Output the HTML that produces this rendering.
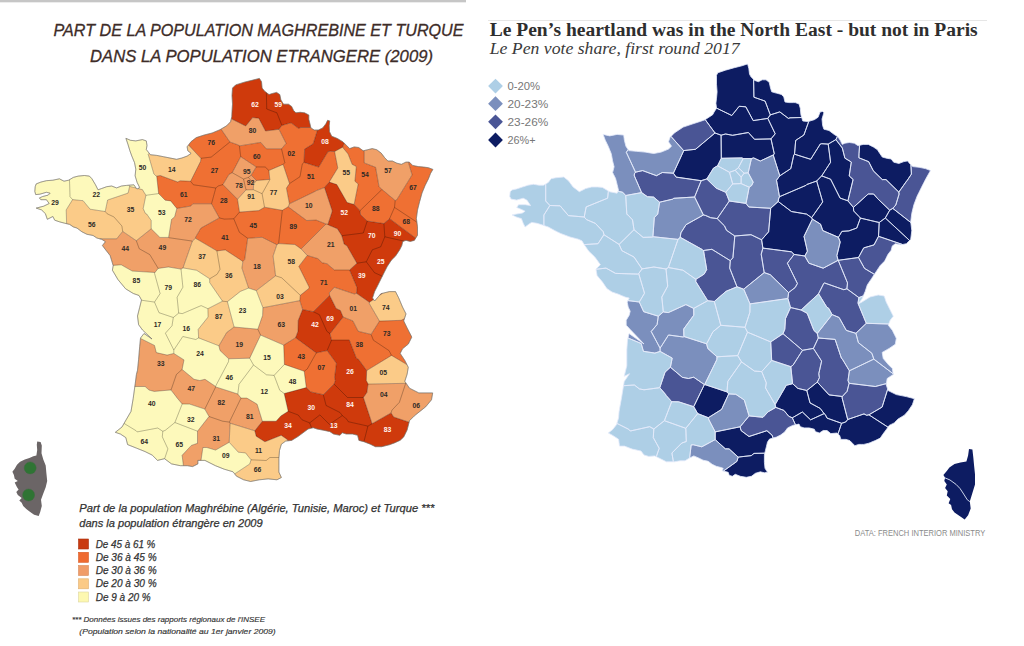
<!DOCTYPE html>
<html><head><meta charset="utf-8"><title>France maps</title>
<style>
html,body{margin:0;padding:0;background:#fff;}
body{width:1024px;height:646px;overflow:hidden;position:relative;}
svg{position:absolute;left:0;top:0;display:block;}
.lt{font-family:"Liberation Sans",sans-serif;font-style:italic;}
.num{font-family:"Liberation Sans",sans-serif;font-size:6.8px;font-weight:bold;text-anchor:middle;}
.serif{font-family:"Liberation Serif",serif;}
.cond{font-family:"Liberation Sans",sans-serif;}
</style></head>
<body>
<svg width="1024" height="646" viewBox="0 0 1024 646">
<rect x="0" y="0" width="466" height="2" fill="#c6c6c6"/><rect x="0" y="2" width="466" height="1" fill="#ececec"/>
<text class="lt" x="53.5" y="35.8" font-size="16.8" fill="#3d2c28" stroke="#3d2c28" stroke-width="0.3" textLength="410" lengthAdjust="spacingAndGlyphs">PART DE LA POPULATION MAGHREBINE ET TURQUE</text>
<text class="lt" x="90" y="62.3" font-size="16.8" fill="#3d2c28" stroke="#3d2c28" stroke-width="0.3" textLength="343" lengthAdjust="spacingAndGlyphs">DANS LA POPULATION ETRANGERE (2009)</text>
<g id="leftmap">
<path fill="#fdf9bb" d="M135.8,140.9 130.5,140.3 125.9,138.3 127.9,144.2 129.9,150.8 131.8,156.1 132.6,157.9 134.5,162.6 135.8,169.2 135.3,173.8 135.1,175.8 135.5,177.1 137.1,182.4 139.7,187.6 137.9,188.5 142.4,189.6 145.9,195.3 143.2,208.6 145.3,213.3 146.7,214 151.2,220.5 151.2,228.8 159.9,237.4 168.6,237.4 171.5,219.5 174.7,216.7 176.8,208.4 170.7,200.9 165.2,200.2 158.6,193.6 156.7,176.2 155.9,175.9 153.8,173.8 148.2,154.4 149.2,153.2 146.3,149.5 147,145.5 146.3,140.9 142.4,139.6ZM126.5,185.4 121.5,186 116.6,187.9 111.6,186 106.7,186.7 106.1,186.9 101.7,188.5 98,189.8 95.5,184.8 91.9,178.7 91.8,178.6 89.4,176.1 84.4,175.5 78.2,176.1 73.3,177.4 69.5,179.7 68.7,180.2 64,181.2 59.4,178.8 52.9,180.2 50,180.4 46.4,180.7 40.8,182.1 36.2,183.9 35.2,186.7 34.8,191.4 35.7,194.6 39.9,194.2 46.4,192.3 50.1,193.2 48.2,195.1 42.7,196.5 39.4,197.9 40.8,199.7 46.4,199.7 46.7,200.2 49.2,203.5 43.6,206.2 41.1,206.8 36.2,208.1 39.2,209.1 41.7,210 43,211.3 45.4,213.7 47.3,219.3 52.9,216.5 54.7,220.2 59.7,221.9 64.6,223.2 66.6,223.7 66.2,209.9 72.6,199.6 83.1,200.7 90.1,209.2 105.2,211.5 107.6,200 128.1,193.1 129.6,186.4 136.1,188 133.9,184.8 129,185.2ZM117.9,279.5 125.6,288.8 131.5,292.4 133.3,293.5 136,294.4 139,295.5 141.5,300 141.4,300.2 139.7,307.3 137.5,316 138.6,324.7 138.7,324.8 142.5,330 152,339 144,333.5 140.5,338 140.5,338.4 154.5,345.4 156.3,352.6 167.1,355.1 173.8,353.4 184,359.9 182.1,369.4 194,379.3 199.8,380.5 205,379.3 215.5,386.4 215.7,386.9 237.8,394 241,398.1 246.9,398.1 257.1,404.2 262.4,421.2 276.1,421.2 280.9,415.9 288.2,411.3 284.2,393.5 306.3,387.6 304.2,371.3 284.4,364.4 283.7,345.1 260.6,335.1 249.7,358.2 228.7,358.8 220,350.5 218.9,345.8 198.6,337.9 198.2,329.4 208.1,317 207.9,308.7 222.5,301.2 209.7,282.6 209.7,278.8 196.7,270.3 183,267.9 181,269.1 168.4,267 158.2,268.4 154.9,272.5 132.3,271.1 121.2,264.8 113.1,265.4 113.2,265.6 112.4,270.2ZM122,427 115.3,432.3 120.5,434.1 125.8,437.6 127.6,444.6 130.4,445.7 136.4,448.1 145.1,451.6 146.9,452.5 152.2,455.1 157.5,460.4 164.5,458.7 164.6,458.8 171.5,463.9 180.3,465.7 183.4,465.7 182.1,455.3 191.4,445.4 197.5,443.3 197.5,431.2 209,416.5 204.8,409.1 189.6,404.1 182.2,404 176.5,397.2 176.4,396.9 171,390.1 170.4,390 154.2,391.4 149.1,390.1 145.1,386.5 134.8,386.5 133.2,398.4 131.5,408.2 131,411.4 126,420 124,423.4ZM262.9,307.7 256.3,290.6 248.6,288.1 240.4,291.4 227.4,301.7 234.1,327 257.8,329.2 262.6,315.5ZM251,459.8 245.5,452.9 238.3,452.2 229.2,442.3 215.6,450.1 206.8,447.5 202.9,447.5 201,460.4 204.9,460.4 215.4,465.7 221,467.9 224.2,469.2 226.3,469.8 233,471.8 234.7,473.9 249.8,463.9Z"/>
<path fill="#fbcb88" d="M187.1,146.8 187.8,150.8 191.1,153.4 187.1,156.1 181.8,158 177,159.2 176.6,159.3 170.6,158.1 170,158 163.4,156.7 156.8,155.4 150.3,154.7 149.2,153.2 148.2,154.4 153.8,173.8 155.9,175.9 156.7,176.2 160.2,175.5 177.7,182 180.2,180.8 190.6,181.3 200.6,161.3 200.9,158.3 188.5,145ZM246,189.9 237.5,199.3 239.5,212.1 258.9,210.6 264.5,207.2 282.3,210.3 288.2,206.8 289.4,203.8 286.4,188.1 289.5,183.6 283.1,164.4 268.9,170.5 269.8,179.4 256.5,180.5 253.7,183.8 253.3,189.7ZM136.4,188.5 136.1,188 129.6,186.4 128.1,193.1 107.6,200 105.2,211.5 90.1,209.2 83.1,200.7 72.6,199.6 66.2,209.9 66.6,223.7 69.6,224.4 73.3,226.9 76.6,228 77,228.1 81.9,231.8 86.9,234.3 93.1,235.5 93.8,236 96.8,238 99.6,238.8 116.7,238.8 122.7,231.4 136.3,240.7 151.2,228.8 151.2,220.5 146.7,214 145.3,213.3 143.2,208.6 145.9,195.3 142.4,189.6 137.9,188.5 137.1,188.9ZM222.5,301.2 207.9,308.7 208.1,317 198.2,329.4 198.6,337.9 218.9,345.8 226.7,332.5 234.1,327 227.4,301.7 240.4,291.4 248.6,288.1 241.9,268.1 242.9,261.4 225.3,249.9 216.9,250.9 216.4,250.7 216.4,250.6 195.5,238.3 192.4,241.1 183,267.9 196.7,270.3 209.7,278.8 209.7,282.6ZM236.5,476.2 243.6,479.8 250.6,481.5 253.2,481 259.4,479.8 266.2,479.1 268.2,478.9 277,479.8 281.4,477.5 278.9,472.1 278.9,465.8 278.9,458.2 279,457.5 279.5,450.5 281.4,444.2 285.7,441.1 287.8,440.8 287.3,439.5 281.2,435.3 264.9,441.8 256.2,436.2 254.8,430.8 230.1,423.2 229.2,442.3 238.3,452.2 245.5,452.9 251,459.8 249.8,463.9 234.7,473.9ZM329.3,181.9 329.3,182.1 336.8,184.6 347.1,202.5 354.1,204.5 358.2,184 354.9,181.2 356.3,166.6 352.1,164.3 348.1,154 342.5,147.2 334.6,151.6 337.8,168ZM309.2,287.2 298.8,266.4 307.2,255.4 301.1,248.9 294.9,244.5 278.6,243.6 276.9,244.7 273.1,256 275.6,275.8 256.3,290.6 262.9,307.7 299.8,300.6 300.3,295.3 308.8,288.5ZM406,313.9 402.5,307 398.7,297.9 395.5,291.6 389.3,291.6 382.6,293.3 379.4,295.5 374.6,301 373.6,299.5 369.4,302.3 369.4,303.7 379.5,321.1 401.2,320.3 404.5,318.6ZM404.8,381.3 407.1,374.3 408.3,367.3 406.9,364.6 391.5,355.4 366.7,370.6 366.3,380.6 368.1,384.1 405.7,383.3 405.9,383Z"/>
<path fill="#f0a068" d="M240.7,156.7 232.2,172.7 229,174.4 222.9,184.6 237.5,199.3 246,189.9 253.3,189.7 253.7,183.8 256.5,180.5 251.2,175.2 256.2,166.9ZM176.8,208.4 174.7,216.7 171.5,219.5 168.6,237.4 159.9,237.4 151.2,228.8 136.3,240.7 122.7,231.4 116.7,238.8 99.6,238.8 101.7,239.3 105.4,241.7 102.4,245.5 105,249 110.1,255.5 112.2,262.3 113.1,265.4 121.2,264.8 132.3,271.1 154.9,272.5 158.2,268.4 168.4,267 181,269.1 183,267.9 192.4,241.1 195.5,238.3 195.6,237.2 200.9,228.1 219.3,217.9 211.5,203.8 192.9,203.8 190.7,206.1ZM234.1,327 226.7,332.5 218.9,345.8 220,350.5 228.7,358.8 249.7,358.2 260.6,335.1 283.7,345.1 295.6,337.7 298,331.2 298.2,320.5 302.6,309.5 299.8,300.6 262.9,307.7 262.6,315.5 257.8,329.2ZM136.4,374.5 135.3,383.2 134.8,386.5 145.1,386.5 149.1,390.1 154.2,391.4 170.4,390 171,390.1 176.4,396.9 176.5,397.2 182.2,404 189.6,404.1 204.8,409.1 209,416.5 197.5,431.2 197.5,443.3 191.4,445.4 182.1,455.3 183.4,465.7 187.3,465.7 192.6,466.6 197.9,463.9 197.9,460.4 201,460.4 202.9,447.5 206.8,447.5 215.6,450.1 229.2,442.3 230.1,423.2 254.8,430.8 262.4,421.2 257.1,404.2 246.9,398.1 241,398.1 237.8,394 215.7,386.9 215.5,386.4 205,379.3 199.8,380.5 194,379.3 182.1,369.4 184,359.9 173.8,353.4 167.1,355.1 156.3,352.6 154.5,345.4 140.5,338.4 139.7,346.4 138.6,359.4 138.5,360.6 137.5,370.2ZM279,129.3 265.5,131 258.8,118.2 252.6,117.6 245.7,126 231.3,118.8 230.5,121.8 226.6,125.8 221,129.1 229.9,142 238.6,145.1 239.4,145.9 260.7,142.4 266.4,148.8 281.5,148.8 286.1,143.4ZM382.2,189.6 395.2,200.5 396.7,199.9 412.1,174.9 408.3,162.1 405.9,162.1 403.7,163.2 401.4,164.3 396.9,163.2 392.4,161 387.9,161 384.9,157.9 384.6,157.6 381.2,153.1 376.7,149.7 372.2,148.6 367.7,149.7 364.3,150.5 364.2,150.8 364.2,162.9 375.6,167.3 379,186.5 381.9,189.5ZM289.4,203.8 288.2,206.8 306.7,220.5 316.2,220.1 326,224 301.1,248.9 307.2,255.4 317.8,258.6 322.2,262.8 327,263.7 334.4,270 349.6,270 356.9,263.2 346.9,245.7 344.1,244.1 341.8,235.7 337.4,228.7 328.4,225 327.9,224.4 332.3,211 324.5,187.5 315.1,191.1 314.6,191.7ZM241.9,268.1 248.6,288.1 256.3,290.6 275.6,275.8 273.1,256 276.9,244.7 262.1,237.3 247.7,238.3 244.7,259.5 242.9,261.4ZM371.1,334.4 379.5,321.1 369.4,303.7 369.4,302.3 356.5,293.3 354.4,294 334.4,287.3 329.3,292.8 329.6,295.4 336.1,308.4 340.4,310.5 343.1,317 352.9,320.9 358.2,331.3ZM415.9,414.6 419.9,411.4 425.7,406.8 431.5,399.8 432.7,392.9 428,392.9 418.8,392.9 409.5,388.2 405.9,383 405.7,383.3 368.1,384.1 366.9,392.5 363.4,397.5 363.4,397.6 372.1,423.7 391.1,412.9 393.6,417 409.1,422.2 409.5,420.7 414.1,416.1Z"/>
<path fill="#ef7033" d="M212.1,133 204.2,135 196.3,137.6 191.1,141.6 188.5,145 200.9,158.3 200.6,161.3 190.6,181.3 180.2,180.8 177.7,182 160.2,175.5 156.7,176.2 158.6,193.6 165.2,200.2 170.7,200.9 176.8,208.4 190.7,206.1 192.9,203.8 211.5,203.8 219.3,217.9 200.9,228.1 195.6,237.2 195.5,238.3 216.4,250.6 216.4,250.7 216.9,250.9 225.3,249.9 242.9,261.4 244.7,259.5 247.7,238.3 262.1,237.3 276.9,244.7 278.6,243.6 294.9,244.5 301.1,248.9 326,224 316.2,220.1 306.7,220.5 288.2,206.8 282.3,210.3 264.5,207.2 258.9,210.6 239.5,212.1 237.5,199.3 222.9,184.6 229,174.4 232.2,172.7 240.7,156.7 256.2,166.9 251.2,175.2 256.5,180.5 269.8,179.4 268.9,170.5 283.1,164.4 289.5,183.6 286.4,188.1 289.4,203.8 314.6,191.7 315.1,191.1 324.5,187.5 329.3,182.1 329.3,181.9 337.8,168 334.6,151.6 330.4,151.2 327.9,151.8 318.7,167.1 304,162.4 304.6,149.1 313.2,143.8 317.5,130 314.2,130 310.9,127.9 310.8,127.5 300.9,127.5 298.4,128.3 291,122.8 281.9,125.4 279,129.3 286.1,143.4 281.5,148.8 266.4,148.8 260.7,142.4 239.4,145.9 238.6,145.1 229.9,142 221,129.1 220,129.7ZM283.7,345.1 284.4,364.4 304.2,371.3 306.3,387.6 310.8,391.9 323.3,394.7 334,384 335.3,380.6 334.6,377.4 336.4,363.2 327.1,350.6 316.3,352.9 295.6,337.7ZM354.1,204.5 360,210.7 360.5,214.6 367.2,221.1 383.9,223.6 389.6,218.7 415.7,238.2 417.5,235.2 417.5,226.8 416.9,222.2 416.4,218.4 417.5,210.1 419.6,201.7 420,200.4 422,193 425,185.7 425.3,185.1 428.4,178.9 430.6,173.3 432.9,169.4 428.4,167.7 423.9,167.1 418.3,166.6 412.6,165.4 409.3,162.1 408.3,162.1 412.1,174.9 396.7,199.9 395.2,200.5 382.2,189.6 381.9,189.5 379,186.5 375.6,167.3 364.2,162.9 364.2,150.8 364.3,150.5 363.2,150.8 358.7,147.5 354.2,146.9 349.7,148.6 346.3,145.2 344.3,143.2 342.5,147.2 348.1,154 352.1,164.3 356.3,166.6 354.9,181.2 358.2,184ZM313.3,311.7 329.6,295.4 329.3,292.8 334.4,287.3 354.4,294 356.5,293.3 357.1,287.9 349.6,270 334.4,270 327,263.7 322.2,262.8 317.8,258.6 307.2,255.4 298.8,266.4 309.2,287.2 308.8,288.5 300.3,295.3 299.8,300.6 302.6,309.5ZM402.5,348.8 408.3,344.1 411.8,337.1 407.1,327.9 403.7,320.9 404.5,318.6 401.2,320.3 379.5,321.1 371.1,334.4 358.2,331.3 352.9,320.9 343.1,317 330,333.7 331.6,340 349.3,340 356.5,358.5 358.4,359.2 366.7,370.6 391.5,355.4 406.9,364.6 404.8,360.4 400.2,353.4Z"/>
<path fill="#cf3a0c" d="M232.5,88.1 232,95.6 232.5,104.2 232.4,105 232,111.7 231.8,116.6 231.3,118.8 245.7,126 252.6,117.6 258.8,118.2 265.5,131 279,129.3 281.9,125.4 291,122.8 298.4,128.3 300.9,127.5 310.8,127.5 309.9,123.6 308.8,119.3 308.8,115 304.5,112.8 303.9,112.7 300.2,112.3 295.9,112.8 294.1,111.1 293.7,110.7 291.6,106.4 289.3,104.8 288.4,104.2 283.5,104.2 280.9,99.9 279.8,94.6 276.6,92.4 272.3,93.5 269,94.6 266.4,92.6 264.7,91.3 262.1,88.1 261.7,83.3 261.5,81.7 259.4,78.4 252.9,80.1 244.3,82.2 235.7,84.9ZM337.4,138.5 331.7,136.2 329.5,131.7 329.2,125.7 329.7,120.9 327.6,120.3 326,123.6 325.6,124.2 322.7,127.9 318.4,130 317.5,130 313.2,143.8 304.6,149.1 304,162.4 318.7,167.1 327.9,151.8 330.4,151.2 334.6,151.6 342.5,147.2 344.3,143.2 343,141.9ZM341.8,235.7 344.1,244.1 346.9,245.7 356.9,263.2 349.6,270 357.1,287.9 356.5,293.3 369.4,302.3 373.6,299.5 372.5,297.9 374.6,291.6 377.8,285.3 380.9,279 382.3,276.2 384,272.8 387.2,266.5 391.3,260.2 393.5,258.1 395.5,256.1 399.7,249.8 401.8,245.6 402.8,241.4 403.9,241.1 406,240.4 410.2,241.4 414.3,240.4 415.7,238.2 389.6,218.7 383.9,223.6 367.2,221.1 360.5,214.6 360,210.7 354.1,204.5 347.1,202.5 336.8,184.6 329.3,182.1 324.5,187.5 332.3,211 327.9,224.4 328.4,225 337.4,228.7ZM298,331.2 295.6,337.7 316.3,352.9 327.1,350.6 336.4,363.2 334.6,377.4 335.3,380.6 334,384 323.3,394.7 310.8,391.9 306.3,387.6 284.2,393.5 288.2,411.3 280.9,415.9 276.1,421.2 262.4,421.2 254.8,430.8 256.2,436.2 264.9,441.8 281.2,435.3 287.3,439.5 287.8,440.8 291.6,440.4 297.9,436.6 303,432.8 308.1,429 311.7,428.1 313.2,427.7 317,429 323.3,430.2 329,431.4 329.7,431.5 333.5,434 339.8,435.3 342.4,432.8 343.1,433 346.2,434 352.5,434 357.6,435.3 358.9,440.4 363.9,441.7 363.9,441.7 370.3,444.2 375.4,446.7 381.7,446.7 389.3,444.8 389.6,444.7 394.4,442.9 399.7,440.5 400,440.4 403.7,437 407.1,430 409.1,422.2 393.6,417 391.1,412.9 372.1,423.7 363.4,397.6 363.4,397.5 366.9,392.5 368.1,384.1 366.3,380.6 366.7,370.6 358.4,359.2 356.5,358.5 349.3,340 331.6,340 330,333.7 343.1,317 340.4,310.5 336.1,308.4 329.6,295.4 313.3,311.7 302.6,309.5 298.2,320.5ZM382.6,293.3 380.9,293.7 379.4,295.5Z"/>
<g fill="none" stroke="#000" stroke-width="0.7" stroke-opacity="0.2" stroke-linejoin="round">
<path d="M69.5,179.7 68.7,180.2 64,181.2 59.4,178.8 52.9,180.2 50,180.4 46.4,180.7 40.8,182.1 36.2,183.9 35.2,186.7 34.8,191.4 35.7,194.6 39.9,194.2 46.4,192.3 50.1,193.2 48.2,195.1 42.7,196.5 39.4,197.9 40.8,199.7 46.4,199.7 46.7,200.2 49.2,203.5 43.6,206.2 41.1,206.8 36.2,208.1 39.2,209.1 41.7,210 43,211.3 45.4,213.7 47.3,219.3 52.9,216.5 54.7,220.2 59.7,221.9 64.6,223.2 66.6,223.7 66.2,209.9 72.6,199.6 70,196.7Z"/>
<path d="M146.3,149.5 147,145.5 146.3,140.9 142.4,139.6 135.8,140.9 130.5,140.3 125.9,138.3 127.9,144.2 129.9,150.8 131.8,156.1 132.6,157.9 134.5,162.6 135.8,169.2 135.3,173.8 135.1,175.8 135.5,177.1 137.1,182.4 139.7,187.6 137.9,188.5 142.4,189.6 145.9,195.3 158.6,193.6 156.7,176.2 155.9,175.9 153.8,173.8 148.2,154.4 149.2,153.2ZM129.6,186.4 136.1,188 133.9,184.8 129,185.2Z"/>
<path d="M136.2,430.8 124,423.4 122,427 115.3,432.3 120.5,434.1 125.8,437.6 127.6,444.6 130.4,445.7 136.4,448.1 145.1,451.6 146.9,452.5 152.2,455.1 157.5,460.4 164.5,458.7 164.6,458.8 167.9,448.9 162.3,436.8 162.8,431.3 157.7,428 137.2,431.9Z"/>
<path d="M66.6,223.7 69.6,224.4 73.3,226.9 76.6,228 77,228.1 81.9,231.8 86.9,234.3 93.1,235.5 93.8,236 96.8,238 99.6,238.8 116.7,238.8 122.7,231.4 121.9,226 113.9,216.9 107.2,213.8 105.2,211.5 90.1,209.2 83.1,200.7 72.6,199.6 66.2,209.9Z"/>
<path d="M83.1,200.7 90.1,209.2 105.2,211.5 107.6,200 128.1,193.1 129.6,186.4 129,185.2 126.5,185.4 121.5,186 116.6,187.9 111.6,186 106.7,186.7 106.1,186.9 101.7,188.5 98,189.8 95.5,184.8 91.9,178.7 91.8,178.6 89.4,176.1 84.4,175.5 78.2,176.1 73.3,177.4 69.5,179.7 70,196.7 72.6,199.6Z"/>
<path d="M259.4,78.4 252.9,80.1 244.3,82.2 235.7,84.9 232.5,88.1 232,95.6 232.5,104.2 232.4,105 232,111.7 231.8,116.6 231.3,118.8 245.7,126 252.6,117.6 258.8,118.2 265.5,131 279,129.3 281.9,125.4 276.9,112.8 266.7,109 266.4,92.6 264.7,91.3 262.1,88.1 261.7,83.3 261.5,81.7Z"/>
<path d="M113.1,265.4 121.2,264.8 132.3,271.1 154.9,272.5 158.2,268.4 149.8,254.6 139.2,248.7 136.3,240.7 122.7,231.4 116.7,238.8 99.6,238.8 101.7,239.3 105.4,241.7 102.4,245.5 105,249 110.1,255.5 112.2,262.3Z"/>
<path d="M145.9,195.3 142.4,189.6 137.9,188.5 137.1,188.9 136.4,188.5 136.1,188 129.6,186.4 128.1,193.1 107.6,200 105.2,211.5 107.2,213.8 113.9,216.9 121.9,226 122.7,231.4 136.3,240.7 151.2,228.8 151.2,220.5 146.7,214 145.3,213.3 143.2,208.6Z"/>
<path d="M121.2,264.8 113.1,265.4 113.2,265.6 112.4,270.2 117.9,279.5 125.6,288.8 131.5,292.4 133.3,293.5 136,294.4 139,295.5 141.5,300 141.4,300.2 154.5,302.1 160.1,293.6 154.6,273.6 154.9,272.5 132.3,271.1Z"/>
<path d="M133.2,398.4 131.5,408.2 131,411.4 126,420 124,423.4 136.2,430.8 137.2,431.9 157.7,428 162.8,431.3 165.3,430.3 174.9,422.5 182.2,404 176.5,397.2 176.4,396.9 171,390.1 170.4,390 154.2,391.4 149.1,390.1 145.1,386.5 134.8,386.5Z"/>
<path d="M140.5,338.4 139.7,346.4 138.6,359.4 138.5,360.6 137.5,370.2 136.4,374.5 135.3,383.2 134.8,386.5 145.1,386.5 149.1,390.1 154.2,391.4 170.4,390 171,390.1 176.4,374.5 182.1,369.4 184,359.9 173.8,353.4 167.1,355.1 156.3,352.6 154.5,345.4Z"/>
<path d="M160.1,293.6 154.5,302.1 159,312.7 173.3,317.5 178.7,313.1 177.1,297.3 182.9,287.2 181,269.1 168.4,267 158.2,268.4 154.9,272.5 154.6,273.6Z"/>
<path d="M200.9,158.3 211.2,157.1 229.9,142 221,129.1 220,129.7 212.1,133 204.2,135 196.3,137.6 191.1,141.6 188.5,145Z"/>
<path d="M141.4,300.2 139.7,307.3 137.5,316 138.6,324.7 138.7,324.8 142.5,330 152,339 144,333.5 140.5,338 140.5,338.4 154.5,345.4 156.3,352.6 167.1,355.1 173.8,353.4 173.8,350 165.4,333.2 172,325.8 173.3,317.5 159,312.7 154.5,302.1Z"/>
<path d="M145.3,213.3 146.7,214 151.2,220.5 151.2,228.8 159.9,237.4 168.6,237.4 171.5,219.5 174.7,216.7 176.8,208.4 170.7,200.9 165.2,200.2 158.6,193.6 145.9,195.3 143.2,208.6Z"/>
<path d="M149.8,254.6 158.2,268.4 168.4,267 181,269.1 183,267.9 192.4,241.1 168.9,237.7 168.6,237.4 159.9,237.4 151.2,228.8 136.3,240.7 139.2,248.7Z"/>
<path d="M190.6,181.3 200.6,161.3 200.9,158.3 188.5,145 187.1,146.8 187.8,150.8 191.1,153.4 187.1,156.1 181.8,158 177,159.2 176.6,159.3 170.6,158.1 170,158 163.4,156.7 156.8,155.4 150.3,154.7 149.2,153.2 148.2,154.4 153.8,173.8 155.9,175.9 156.7,176.2 160.2,175.5 177.7,182 180.2,180.8Z"/>
<path d="M170.7,200.9 176.8,208.4 190.7,206.1 192.9,203.8 211.5,203.8 215.8,188 193.4,184.8 190.6,181.3 180.2,180.8 177.7,182 160.2,175.5 156.7,176.2 158.6,193.6 165.2,200.2Z"/>
<path d="M197.5,443.3 197.5,431.2 174.9,422.5 165.3,430.3 162.8,431.3 162.3,436.8 167.9,448.9 164.6,458.8 171.5,463.9 180.3,465.7 183.4,465.7 182.1,455.3 191.4,445.4Z"/>
<path d="M219.3,217.9 211.5,203.8 192.9,203.8 190.7,206.1 176.8,208.4 174.7,216.7 171.5,219.5 168.6,237.4 168.9,237.7 192.4,241.1 195.5,238.3 195.6,237.2 200.9,228.1Z"/>
<path d="M208.1,317 207.9,308.7 201.1,305.6 182.4,313.6 178.7,313.1 173.3,317.5 172,325.8 165.4,333.2 173.8,350 182.8,336.5 195.8,339.5 198.6,337.9 198.2,329.4Z"/>
<path d="M182.1,369.4 176.4,374.5 171,390.1 176.4,396.9 176.5,397.2 182.2,404 189.6,404.1 204.8,409.1 215.7,386.9 215.5,386.4 205,379.3 199.8,380.5 194,379.3Z"/>
<path d="M206.8,447.5 215.6,450.1 229.2,442.3 230.1,423.2 229.4,422.1 222.6,421.2 209,416.5 197.5,431.2 197.5,443.3 191.4,445.4 182.1,455.3 183.4,465.7 187.3,465.7 192.6,466.6 197.9,463.9 197.9,460.4 201,460.4 202.9,447.5Z"/>
<path d="M209.7,278.8 196.7,270.3 183,267.9 181,269.1 182.9,287.2 177.1,297.3 178.7,313.1 182.4,313.6 201.1,305.6 207.9,308.7 222.5,301.2 209.7,282.6Z"/>
<path d="M218.9,345.8 198.6,337.9 195.8,339.5 182.8,336.5 173.8,350 173.8,353.4 184,359.9 182.1,369.4 194,379.3 199.8,380.5 205,379.3 215.5,386.4 228.5,361.7 228.7,358.8 220,350.5Z"/>
<path d="M183,267.9 196.7,270.3 209.7,278.8 217.1,274.3 220,269.3 216.9,250.9 216.4,250.7 216.4,250.6 195.5,238.3 192.4,241.1Z"/>
<path d="M174.9,422.5 197.5,431.2 209,416.5 204.8,409.1 189.6,404.1 182.2,404Z"/>
<path d="M216.4,250.6 216.4,250.7 216.9,250.9 225.3,249.9 242.9,261.4 244.7,259.5 247.7,238.3 239.4,232.3 233.8,218.8 224.3,219.1 219.3,217.9 200.9,228.1 195.6,237.2 195.5,238.3Z"/>
<path d="M224.2,469.2 226.3,469.8 233,471.8 234.7,473.9 249.8,463.9 251,459.8 245.5,452.9 238.3,452.2 229.2,442.3 215.6,450.1 206.8,447.5 202.9,447.5 201,460.4 204.9,460.4 215.4,465.7 221,467.9Z"/>
<path d="M234.1,327 227.4,301.7 222.5,301.2 207.9,308.7 208.1,317 198.2,329.4 198.6,337.9 218.9,345.8 226.7,332.5Z"/>
<path d="M209,416.5 222.6,421.2 229.4,422.1 241,398.1 237.8,394 215.7,386.9 204.8,409.1Z"/>
<path d="M232.2,172.7 240.7,156.7 239.4,145.9 238.6,145.1 229.9,142 211.2,157.1 200.9,158.3 200.6,161.3 190.6,181.3 193.4,184.8 215.8,188 218.2,186 222.9,184.6 229,174.4Z"/>
<path d="M215.8,188 211.5,203.8 219.3,217.9 224.3,219.1 233.8,218.8 239.5,212.1 237.5,199.3 222.9,184.6 218.2,186Z"/>
<path d="M242.9,261.4 225.3,249.9 216.9,250.9 220,269.3 217.1,274.3 209.7,278.8 209.7,282.6 222.5,301.2 227.4,301.7 240.4,291.4 248.6,288.1 241.9,268.1Z"/>
<path d="M220,350.5 228.7,358.8 249.7,358.2 260.6,335.1 257.8,329.2 234.1,327 226.7,332.5 218.9,345.8Z"/>
<path d="M266.2,460.5 251,459.8 249.8,463.9 234.7,473.9 236.5,476.2 243.6,479.8 250.6,481.5 253.2,481 259.4,479.8 266.2,479.1 268.2,478.9 277,479.8 281.4,477.5 278.9,472.1 278.9,465.8 278.9,458.2 279,457.5 269.9,457.5Z"/>
<path d="M245.5,452.9 251,459.8 266.2,460.5 269.9,457.5 279,457.5 279.5,450.5 281.4,444.2 285.7,441.1 287.8,440.8 287.3,439.5 281.2,435.3 264.9,441.8 256.2,436.2 254.8,430.8 230.1,423.2 229.2,442.3 238.3,452.2Z"/>
<path d="M253.5,365 249.7,358.2 228.7,358.8 228.5,361.7 215.5,386.4 215.7,386.9 237.8,394 239,384.3Z"/>
<path d="M222.9,184.6 237.5,199.3 246,189.9 243.5,179 232.2,172.7 229,174.4Z"/>
<path d="M227.4,301.7 234.1,327 257.8,329.2 262.6,315.5 262.9,307.7 256.3,290.6 248.6,288.1 240.4,291.4Z"/>
<path d="M239.4,232.3 247.7,238.3 262.1,237.3 276.9,244.7 278.6,243.6 282.3,210.3 264.5,207.2 258.9,210.6 239.5,212.1 233.8,218.8Z"/>
<path d="M230.1,423.2 254.8,430.8 262.4,421.2 257.1,404.2 246.9,398.1 241,398.1 229.4,422.1Z"/>
<path d="M276.9,244.7 262.1,237.3 247.7,238.3 244.7,259.5 242.9,261.4 241.9,268.1 248.6,288.1 256.3,290.6 275.6,275.8 273.1,256Z"/>
<path d="M257.1,404.2 262.4,421.2 276.1,421.2 280.9,415.9 288.2,411.3 284.2,393.5 279.7,390.2 274.1,375.4 266.5,374.8 253.5,365 239,384.3 237.8,394 241,398.1 246.9,398.1Z"/>
<path d="M260.7,142.4 266.4,148.8 281.5,148.8 286.1,143.4 279,129.3 265.5,131 258.8,118.2 252.6,117.6 245.7,126 231.3,118.8 230.5,121.8 226.6,125.8 221,129.1 229.9,142 238.6,145.1 239.4,145.9Z"/>
<path d="M237.5,199.3 239.5,212.1 258.9,210.6 264.5,207.2 262.1,193.7 253.3,189.7 246,189.9Z"/>
<path d="M232.2,172.7 243.5,179 248.4,177.4 251.2,175.2 256.2,166.9 240.7,156.7Z"/>
<path d="M246,189.9 253.3,189.7 253.7,183.8 248.4,177.4 243.5,179Z"/>
<path d="M253.5,365 266.5,374.8 274.1,375.4 284.4,364.4 283.7,345.1 260.6,335.1 249.7,358.2Z"/>
<path d="M256.2,166.9 265.2,167 268.9,170.5 283.1,164.4 284.8,162.7 281.5,148.8 266.4,148.8 260.7,142.4 239.4,145.9 240.7,156.7Z"/>
<path d="M253.7,183.8 256.5,180.5 251.2,175.2 248.4,177.4Z"/>
<path d="M256.5,180.5 269.8,179.4 268.9,170.5 265.2,167 256.2,166.9 251.2,175.2Z"/>
<path d="M253.3,189.7 262.1,193.7 269.9,179.6 269.8,179.4 256.5,180.5 253.7,183.8Z"/>
<path d="M281.9,125.4 291,122.8 298.4,128.3 300.9,127.5 310.8,127.5 309.9,123.6 308.8,119.3 308.8,115 304.5,112.8 303.9,112.7 300.2,112.3 295.9,112.8 294.1,111.1 293.7,110.7 291.6,106.4 289.3,104.8 288.4,104.2 283.5,104.2 280.9,99.9 279.8,94.6 276.6,92.4 272.3,93.5 269,94.6 266.4,92.6 266.7,109 276.9,112.8Z"/>
<path d="M289.5,183.6 283.1,164.4 268.9,170.5 269.8,179.4 269.9,179.6 262.1,193.7 264.5,207.2 282.3,210.3 288.2,206.8 289.4,203.8 286.4,188.1Z"/>
<path d="M275.6,275.8 281.7,277.8 300.3,295.3 308.8,288.5 309.2,287.2 298.8,266.4 307.2,255.4 301.1,248.9 294.9,244.5 278.6,243.6 276.9,244.7 273.1,256Z"/>
<path d="M262.9,307.7 299.8,300.6 300.3,295.3 281.7,277.8 275.6,275.8 256.3,290.6Z"/>
<path d="M287.3,439.5 287.8,440.8 291.6,440.4 297.9,436.6 303,432.8 308.1,429 311.7,428.1 309.7,422.9 302,419.8 298.2,415 288.2,411.3 280.9,415.9 276.1,421.2 262.4,421.2 254.8,430.8 256.2,436.2 264.9,441.8 281.2,435.3Z"/>
<path d="M302.6,309.5 299.8,300.6 262.9,307.7 262.6,315.5 257.8,329.2 260.6,335.1 283.7,345.1 295.6,337.7 298,331.2 298.2,320.5Z"/>
<path d="M279.7,390.2 284.2,393.5 306.3,387.6 304.2,371.3 284.4,364.4 274.1,375.4Z"/>
<path d="M313.2,143.8 317.5,130 314.2,130 310.9,127.9 310.8,127.5 300.9,127.5 298.4,128.3 291,122.8 281.9,125.4 279,129.3 286.1,143.4 281.5,148.8 284.8,162.7 283.1,164.4 289.5,183.6 300,176.7 302.3,163.9 304,162.4 304.6,149.1Z"/>
<path d="M337.8,168 334.6,151.6 330.4,151.2 327.9,151.8 318.7,167.1 304,162.4 302.3,163.9 300,176.7 289.5,183.6 286.4,188.1 289.4,203.8 314.6,191.7 315.1,191.1 324.5,187.5 329.3,182.1 329.3,181.9Z"/>
<path d="M313.2,427.7 317,429 323.3,430.2 329,431.4 329.7,431.5 333.5,434 339.8,435.3 342.4,432.8 343.1,433 346.2,434 352.5,434 357.6,435.3 358.9,440.4 363.9,441.7 363.9,441.7 367.9,426.1 348.2,421.7 347,419.4 342.3,415.6 329.4,424.4 319.9,414.9 309.7,422.9 311.7,428.1Z"/>
<path d="M294.9,244.5 301.1,248.9 326,224 316.2,220.1 306.7,220.5 288.2,206.8 282.3,210.3 278.6,243.6Z"/>
<path d="M284.4,364.4 304.2,371.3 307.3,368.9 316.3,352.9 295.6,337.7 283.7,345.1Z"/>
<path d="M319.4,314.7 313.3,311.7 302.6,309.5 298.2,320.5 298,331.2 295.6,337.7 316.3,352.9 327.1,350.6 331.6,340 330,333.7 326.8,331.2Z"/>
<path d="M308.8,288.5 300.3,295.3 299.8,300.6 302.6,309.5 313.3,311.7 329.6,295.4 329.3,292.8 334.4,287.3 354.4,294 356.5,293.3 357.1,287.9 349.6,270 334.4,270 327,263.7 322.2,262.8 317.8,258.6 307.2,255.4 298.8,266.4 309.2,287.2Z"/>
<path d="M298.2,415 302,419.8 309.7,422.9 319.9,414.9 329.4,424.4 342.3,415.6 340,412.5 326.1,405.5 323.3,394.7 310.8,391.9 306.3,387.6 284.2,393.5 288.2,411.3Z"/>
<path d="M327.9,224.4 332.3,211 324.5,187.5 315.1,191.1 314.6,191.7 289.4,203.8 288.2,206.8 306.7,220.5 316.2,220.1 326,224Z"/>
<path d="M336.4,363.2 327.1,350.6 316.3,352.9 307.3,368.9 304.2,371.3 306.3,387.6 310.8,391.9 323.3,394.7 334,384 335.3,380.6 334.6,377.4Z"/>
<path d="M428.4,178.9 430.6,173.3 432.9,169.4 428.4,167.7 423.9,167.1 418.3,166.6 412.6,165.4 409.3,162.1 408.3,162.1 412.1,174.9 396.7,199.9 395.2,200.5 394.5,207.4 416.9,222.2 416.4,218.4 417.5,210.1 419.6,201.7 420,200.4 422,193 425,185.7 425.3,185.1Z"/>
<path d="M334.6,151.6 342.5,147.2 344.3,143.2 343,141.9 337.4,138.5 331.7,136.2 329.5,131.7 329.2,125.7 329.7,120.9 327.6,120.3 326,123.6 325.6,124.2 322.7,127.9 318.4,130 317.5,130 313.2,143.8 304.6,149.1 304,162.4 318.7,167.1 327.9,151.8 330.4,151.2Z"/>
<path d="M317.8,258.6 322.2,262.8 327,263.7 334.4,270 349.6,270 356.9,263.2 346.9,245.7 344.1,244.1 341.8,235.7 337.4,228.7 328.4,225 327.9,224.4 326,224 301.1,248.9 307.2,255.4Z"/>
<path d="M340,412.5 342.3,415.6 347,419.4 348.2,421.7 367.9,426.1 372,423.8 372.1,423.7 363.4,397.6 363.4,397.5 347.5,397.5 334,384 323.3,394.7 326.1,405.5Z"/>
<path d="M329.6,295.4 313.3,311.7 319.4,314.7 326.8,331.2 330,333.7 343.1,317 340.4,310.5 336.1,308.4Z"/>
<path d="M349.3,340 356.5,358.5 358.4,359.2 366.7,370.6 391.5,355.4 389.1,350.7 373.4,340.2 371.1,334.4 358.2,331.3 352.9,320.9 343.1,317 330,333.7 331.6,340Z"/>
<path d="M332.3,211 327.9,224.4 328.4,225 337.4,228.7 341.8,235.7 363.3,233 367.2,221.1 360.5,214.6 360,210.7 354.1,204.5 347.1,202.5 336.8,184.6 329.3,182.1 324.5,187.5Z"/>
<path d="M336.1,308.4 340.4,310.5 343.1,317 352.9,320.9 358.2,331.3 371.1,334.4 379.5,321.1 369.4,303.7 369.4,302.3 356.5,293.3 354.4,294 334.4,287.3 329.3,292.8 329.6,295.4Z"/>
<path d="M348.1,154 342.5,147.2 334.6,151.6 337.8,168 329.3,181.9 329.3,182.1 336.8,184.6 347.1,202.5 354.1,204.5 358.2,184 354.9,181.2 356.3,166.6 352.1,164.3Z"/>
<path d="M336.4,363.2 334.6,377.4 335.3,380.6 334,384 347.5,397.5 363.4,397.5 366.9,392.5 368.1,384.1 366.3,380.6 366.7,370.6 358.4,359.2 356.5,358.5 349.3,340 331.6,340 327.1,350.6Z"/>
<path d="M352.1,164.3 356.3,166.6 354.9,181.2 358.2,184 354.1,204.5 360,210.7 381.9,189.5 379,186.5 375.6,167.3 364.2,162.9 364.2,150.8 364.3,150.5 363.2,150.8 358.7,147.5 354.2,146.9 349.7,148.6 346.3,145.2 344.3,143.2 342.5,147.2 348.1,154Z"/>
<path d="M380.7,246.8 384.8,236.8 383.9,223.6 367.2,221.1 363.3,233 341.8,235.7 344.1,244.1 346.9,245.7 356.9,263.2 366.3,261.8 372.3,249.8Z"/>
<path d="M366.3,380.6 368.1,384.1 405.7,383.3 405.9,383 404.8,381.3 407.1,374.3 408.3,367.3 406.9,364.6 391.5,355.4 366.7,370.6Z"/>
<path d="M357.1,287.9 356.5,293.3 369.4,302.3 373.6,299.5 372.5,297.9 374.6,291.6 377.8,285.3 380.9,279 382.3,276.2 374.5,272.7 366.3,261.8 356.9,263.2 349.6,270ZM379.4,295.5 382.6,293.3 380.9,293.7Z"/>
<path d="M364.2,162.9 375.6,167.3 379,186.5 381.9,189.5 382.2,189.6 395.2,200.5 396.7,199.9 412.1,174.9 408.3,162.1 405.9,162.1 403.7,163.2 401.4,164.3 396.9,163.2 392.4,161 387.9,161 384.9,157.9 384.6,157.6 381.2,153.1 376.7,149.7 372.2,148.6 367.7,149.7 364.3,150.5 364.2,150.8Z"/>
<path d="M394.4,442.9 399.7,440.5 400,440.4 403.7,437 407.1,430 409.1,422.2 393.6,417 391.1,412.9 372.1,423.7 372,423.8 367.9,426.1 363.9,441.7 370.3,444.2 375.4,446.7 381.7,446.7 389.3,444.8 389.6,444.7Z"/>
<path d="M360.5,214.6 367.2,221.1 383.9,223.6 389.6,218.7 394.5,207.4 395.2,200.5 382.2,189.6 381.9,189.5 360,210.7Z"/>
<path d="M399.4,402.3 405.7,383.3 368.1,384.1 366.9,392.5 363.4,397.5 363.4,397.6 372.1,423.7 391.1,412.9 392,410.1Z"/>
<path d="M395.5,256.1 399.7,249.8 401.8,245.6 402.8,241.4 403.9,241.1 384.8,236.8 380.7,246.8 372.3,249.8 366.3,261.8 374.5,272.7 382.3,276.2 384,272.8 387.2,266.5 391.3,260.2 393.5,258.1Z"/>
<path d="M389.1,350.7 391.5,355.4 406.9,364.6 404.8,360.4 400.2,353.4 402.5,348.8 408.3,344.1 411.8,337.1 407.1,327.9 403.7,320.9 404.5,318.6 401.2,320.3 379.5,321.1 371.1,334.4 373.4,340.2Z"/>
<path d="M369.4,303.7 379.5,321.1 401.2,320.3 404.5,318.6 406,313.9 402.5,307 398.7,297.9 395.5,291.6 389.3,291.6 382.6,293.3 379.4,295.5 374.6,301 373.6,299.5 369.4,302.3Z"/>
<path d="M399.4,402.3 392,410.1 391.1,412.9 393.6,417 409.1,422.2 409.5,420.7 414.1,416.1 415.9,414.6 419.9,411.4 425.7,406.8 431.5,399.8 432.7,392.9 428,392.9 418.8,392.9 409.5,388.2 405.9,383 405.7,383.3Z"/>
<path d="M384.8,236.8 403.9,241.1 406,240.4 410.2,241.4 414.3,240.4 415.7,238.2 389.6,218.7 383.9,223.6Z"/>
<path d="M415.7,238.2 417.5,235.2 417.5,226.8 416.9,222.2 394.5,207.4 389.6,218.7Z"/>
</g>
<path fill="none" stroke="#7d7870" stroke-width="0.8" stroke-opacity="0.8" d="M259.4,78.4 252.9,80.1 244.3,82.2 235.7,84.9 232.5,88.1 232,95.6 232.5,104.2 232,111.7 231.8,116.6 230.5,121.8 226.6,125.8 220,129.7 212.1,133 204.2,135 196.3,137.6 191.1,141.6 187.1,146.8 187.8,150.8 191.1,153.4 187.1,156.1 181.8,158 176.6,159.3 170,158 163.4,156.7 156.8,155.4 150.3,154.7 146.3,149.5 147,145.5 146.3,140.9 142.4,139.6 135.8,140.9 130.5,140.3 125.9,138.3 127.9,144.2 129.9,150.8 131.8,156.1 134.5,162.6 135.8,169.2 135.1,175.8 137.1,182.4 139.7,187.6 137.1,188.9 136.4,188.5 133.9,184.8 126.5,185.4 121.5,186 116.6,187.9 111.6,186 106.7,186.7 101.7,188.5 98,189.8 95.5,184.8 91.8,178.6 89.4,176.1 84.4,175.5 78.2,176.1 73.3,177.4 68.7,180.2 64,181.2 59.4,178.8 52.9,180.2 46.4,180.7 40.8,182.1 36.2,183.9 35.2,186.7 34.8,191.4 35.7,194.6 39.9,194.2 46.4,192.3 50.1,193.2 48.2,195.1 42.7,196.5 39.4,197.9 40.8,199.7 46.4,199.7 49.2,203.5 43.6,206.2 36.2,208.1 41.7,210 45.4,213.7 47.3,219.3 52.9,216.5 54.7,220.2 59.7,221.9 64.6,223.2 69.6,224.4 73.3,226.9 77,228.1 81.9,231.8 86.9,234.3 93.1,235.5 96.8,238 101.7,239.3 105.4,241.7 102.4,245.5 105,249 110.1,255.5 113.2,265.6 112.4,270.2 117.9,279.5 125.6,288.8 133.3,293.5 139,295.5 141.5,300 139.7,307.3 137.5,316 138.6,324.7 142.5,330 152,339 144,333.5 140.5,338 139.7,346.4 138.6,359.4 137.5,370.2 136.4,374.5 135.3,383.2 133.2,398.4 131,411.4 126,420 122,427 115.3,432.3 120.5,434.1 125.8,437.6 127.6,444.6 136.4,448.1 145.1,451.6 152.2,455.1 157.5,460.4 164.5,458.7 171.5,463.9 180.3,465.7 187.3,465.7 192.6,466.6 197.9,463.9 197.9,460.4 204.9,460.4 215.4,465.7 224.2,469.2 233,471.8 236.5,476.2 243.6,479.8 250.6,481.5 259.4,479.8 268.2,478.9 277,479.8 281.4,477.5 278.9,472.1 278.9,465.8 278.9,458.2 279.5,450.5 281.4,444.2 285.7,441.1 291.6,440.4 297.9,436.6 303,432.8 308.1,429 313.2,427.7 317,429 323.3,430.2 329.7,431.5 333.5,434 339.8,435.3 342.4,432.8 346.2,434 352.5,434 357.6,435.3 358.9,440.4 363.9,441.7 370.3,444.2 375.4,446.7 381.7,446.7 389.3,444.8 394.4,442.9 400,440.4 403.7,437 407.1,430 409.5,420.7 414.1,416.1 419.9,411.4 425.7,406.8 431.5,399.8 432.7,392.9 428,392.9 418.8,392.9 409.5,388.2 404.8,381.3 407.1,374.3 408.3,367.3 404.8,360.4 400.2,353.4 402.5,348.8 408.3,344.1 411.8,337.1 407.1,327.9 403.7,320.9 406,313.9 402.5,307 398.7,297.9 395.5,291.6 389.3,291.6 380.9,293.7 374.6,301 372.5,297.9 374.6,291.6 377.8,285.3 380.9,279 384,272.8 387.2,266.5 391.3,260.2 395.5,256.1 399.7,249.8 401.8,245.6 402.8,241.4 406,240.4 410.2,241.4 414.3,240.4 417.5,235.2 417.5,226.8 416.4,218.4 417.5,210.1 419.6,201.7 422,193 425,185.7 428.4,178.9 430.6,173.3 432.9,169.4 428.4,167.7 423.9,167.1 418.3,166.6 412.6,165.4 409.3,162.1 405.9,162.1 401.4,164.3 396.9,163.2 392.4,161 387.9,161 384.6,157.6 381.2,153.1 376.7,149.7 372.2,148.6 367.7,149.7 363.2,150.8 358.7,147.5 354.2,146.9 349.7,148.6 346.3,145.2 343,141.9 337.4,138.5 331.7,136.2 329.5,131.7 329.2,125.7 329.7,120.9 327.6,120.3 326,123.6 322.7,127.9 318.4,130 314.2,130 310.9,127.9 309.9,123.6 308.8,119.3 308.8,115 304.5,112.8 300.2,112.3 295.9,112.8 293.7,110.7 291.6,106.4 288.4,104.2 283.5,104.2 280.9,99.9 279.8,94.6 276.6,92.4 272.3,93.5 269,94.6 264.7,91.3 262.1,88.1 261.5,81.7Z"/>
</g>
<g class="num">
<text x="255" y="107.4" fill="#fff4ee">62</text>
<text x="278.2" y="106.9" fill="#fff4ee">59</text>
<text x="252.5" y="132.9" fill="#2e2a26">80</text>
<text x="211.2" y="145.4" fill="#2e2a26">76</text>
<text x="256.8" y="158.7" fill="#2e2a26">60</text>
<text x="291.2" y="156.2" fill="#2e2a26">02</text>
<text x="325" y="143.7" fill="#fff4ee">08</text>
<text x="214.5" y="173.2" fill="#2e2a26">27</text>
<text x="246.7" y="174" fill="#2e2a26">95</text>
<text x="239" y="188" fill="#2e2a26">78</text>
<text x="250.5" y="185.4" fill="#2e2a26">92</text>
<text x="251" y="198.9" fill="#2e2a26">91</text>
<text x="273.5" y="194.9" fill="#2e2a26">77</text>
<text x="310.8" y="178.7" fill="#2e2a26">51</text>
<text x="346.2" y="174.9" fill="#2e2a26">55</text>
<text x="365" y="176.7" fill="#2e2a26">54</text>
<text x="388" y="172.7" fill="#2e2a26">57</text>
<text x="413" y="190.4" fill="#2e2a26">67</text>
<text x="308.8" y="208.2" fill="#2e2a26">10</text>
<text x="344.2" y="214.9" fill="#fff4ee">52</text>
<text x="375.8" y="211.2" fill="#2e2a26">88</text>
<text x="406.2" y="224.4" fill="#2e2a26">68</text>
<text x="223.8" y="203.2" fill="#2e2a26">28</text>
<text x="253.2" y="228.2" fill="#2e2a26">45</text>
<text x="293.2" y="229.2" fill="#2e2a26">89</text>
<text x="371.8" y="237.9" fill="#fff4ee">70</text>
<text x="397.5" y="236.2" fill="#fff4ee">90</text>
<text x="142.5" y="169.9" fill="#2e2a26">50</text>
<text x="171.8" y="171.9" fill="#2e2a26">14</text>
<text x="183.8" y="196.9" fill="#2e2a26">61</text>
<text x="96.2" y="197.4" fill="#2e2a26">22</text>
<text x="55" y="205.4" fill="#2e2a26">29</text>
<text x="130.5" y="212.4" fill="#2e2a26">35</text>
<text x="161.8" y="214.9" fill="#2e2a26">53</text>
<text x="188" y="221.7" fill="#2e2a26">72</text>
<text x="91.8" y="226.9" fill="#2e2a26">56</text>
<text x="225" y="239.9" fill="#2e2a26">41</text>
<text x="125.3" y="251.3" fill="#2e2a26">44</text>
<text x="162.4" y="249.7" fill="#2e2a26">49</text>
<text x="202" y="259.4" fill="#2e2a26">37</text>
<text x="257" y="268.6" fill="#2e2a26">18</text>
<text x="228.8" y="278.1" fill="#2e2a26">36</text>
<text x="136.4" y="282.7" fill="#2e2a26">85</text>
<text x="168.2" y="289.9" fill="#2e2a26">79</text>
<text x="197.2" y="286.9" fill="#2e2a26">86</text>
<text x="323.8" y="284.9" fill="#2e2a26">71</text>
<text x="280" y="298.6" fill="#2e2a26">03</text>
<text x="242.5" y="313.1" fill="#2e2a26">23</text>
<text x="218.8" y="319.4" fill="#2e2a26">87</text>
<text x="157.6" y="326.8" fill="#2e2a26">17</text>
<text x="186.2" y="331.1" fill="#2e2a26">16</text>
<text x="281.2" y="326.9" fill="#2e2a26">63</text>
<text x="315" y="327.4" fill="#fff4ee">42</text>
<text x="330" y="320.6" fill="#fff4ee">69</text>
<text x="239.2" y="346.9" fill="#2e2a26">19</text>
<text x="200" y="355.6" fill="#2e2a26">24</text>
<text x="160.8" y="365.6" fill="#2e2a26">33</text>
<text x="267" y="359.9" fill="#2e2a26">15</text>
<text x="301.2" y="358.6" fill="#2e2a26">43</text>
<text x="321.2" y="369.9" fill="#2e2a26">07</text>
<text x="229.2" y="379.9" fill="#2e2a26">46</text>
<text x="292.5" y="383.6" fill="#2e2a26">48</text>
<text x="191.2" y="390.6" fill="#2e2a26">47</text>
<text x="264.2" y="394.4" fill="#2e2a26">12</text>
<text x="151.8" y="405.6" fill="#2e2a26">40</text>
<text x="221.2" y="404.9" fill="#2e2a26">82</text>
<text x="311.2" y="409.9" fill="#fff4ee">30</text>
<text x="190.8" y="422.4" fill="#2e2a26">32</text>
<text x="249.8" y="418.6" fill="#2e2a26">81</text>
<text x="288" y="428.4" fill="#fff4ee">34</text>
<text x="333.8" y="427.9" fill="#fff4ee">13</text>
<text x="330.8" y="247.4" fill="#2e2a26">21</text>
<text x="291.2" y="264.4" fill="#2e2a26">58</text>
<text x="380.8" y="263.6" fill="#fff4ee">25</text>
<text x="361.8" y="277.9" fill="#fff4ee">39</text>
<text x="353.2" y="311.1" fill="#2e2a26">01</text>
<text x="385.8" y="310.4" fill="#2e2a26">74</text>
<text x="386.8" y="336.1" fill="#2e2a26">73</text>
<text x="359.2" y="346.9" fill="#2e2a26">38</text>
<text x="350" y="373.6" fill="#fff4ee">26</text>
<text x="383.2" y="374.9" fill="#2e2a26">05</text>
<text x="383.8" y="397.4" fill="#2e2a26">04</text>
<text x="416.2" y="408.1" fill="#2e2a26">06</text>
<text x="350" y="407.4" fill="#fff4ee">84</text>
<text x="387.5" y="431.9" fill="#fff4ee">83</text>
<text x="216.2" y="441.1" fill="#2e2a26">31</text>
<text x="225.8" y="457.6" fill="#2e2a26">09</text>
<text x="258.5" y="452.6" fill="#2e2a26">11</text>
<text x="257.5" y="472.4" fill="#2e2a26">66</text>
<text x="144.2" y="444.4" fill="#2e2a26">64</text>
<text x="179.2" y="447.4" fill="#2e2a26">65</text>
</g>
<path fill="#6b6566" d="M37.2,441.6 40.6,442.1 41.8,445.5 41.5,453.2 43.3,459.4 45.7,465.6 46.4,473.3 47.2,481.1 45.7,487.3 43.3,493.5 41,499.7 41.8,505.9 40.2,512 38.7,515.9 34.1,514.8 30.2,512 26.3,508.9 23.2,505.9 21.7,502.8 19.3,500.4 21.7,498.1 17.8,495 16.3,491.9 18.6,489.6 17,487.3 14.7,482.6 17.8,481.1 14.7,478.8 13.9,474.9 12.4,471.8 14.7,468.7 17,464.8 20.1,461.7 24.8,459.4 29.4,457.9 33.3,456.3 36.4,455.5 37.2,450.1 36.8,444.7Z"/>
<circle cx="30.2" cy="467.9" r="6" fill="#2f7434" stroke="#3d6b40" stroke-width="0.8" stroke-opacity="0.6"/>
<circle cx="28.6" cy="495" r="6" fill="#2f7434" stroke="#3d6b40" stroke-width="0.8" stroke-opacity="0.6"/>
<text class="lt" x="79.3" y="511.6" font-size="10.5" fill="#333" stroke="#333" stroke-width="0.25" textLength="355" lengthAdjust="spacingAndGlyphs">Part de la population Maghrébine (Algérie, Tunisie, Maroc) et Turque ***</text>
<text class="lt" x="79.3" y="527.2" font-size="10.5" fill="#333" stroke="#333" stroke-width="0.25" textLength="183.4" lengthAdjust="spacingAndGlyphs">dans la population étrangère en 2009</text>
<rect x="78.5" y="539" width="10" height="10" fill="#c93a10" stroke="#a8300c" stroke-width="0.6"/>
<rect x="78.5" y="552.3" width="10" height="10" fill="#ef6a30" stroke="#d85a25" stroke-width="0.6"/>
<rect x="78.5" y="565.5" width="10" height="10" fill="#f09c68" stroke="#d88a5a" stroke-width="0.6"/>
<rect x="78.5" y="578.8" width="10" height="10" fill="#fbca86" stroke="#e0b070" stroke-width="0.6"/>
<rect x="78.5" y="592" width="10" height="10" fill="#fdf8b0" stroke="#dcd6a0" stroke-width="0.6"/>
<g class="lt" font-size="10.5" fill="#333" stroke="#333" stroke-width="0.25">
<text x="95.7" y="547.5" textLength="59.7" lengthAdjust="spacingAndGlyphs">De 45 à 61 %</text>
<text x="95.7" y="560.8" textLength="61" lengthAdjust="spacingAndGlyphs">De 36 à 45 %</text>
<text x="95.7" y="574" textLength="61" lengthAdjust="spacingAndGlyphs">De 30 à 36 %</text>
<text x="95.7" y="587.3" textLength="61" lengthAdjust="spacingAndGlyphs">De 20 à 30 %</text>
<text x="95.7" y="600.5" textLength="55" lengthAdjust="spacingAndGlyphs">De 9 à 20 %</text>
</g>
<text class="lt" x="72" y="621.8" font-size="8" fill="#333" stroke="#333" stroke-width="0.15" textLength="193" lengthAdjust="spacingAndGlyphs">*** Données issues des rapports régionaux de l'INSEE</text>
<text class="lt" x="79.3" y="633.5" font-size="8" fill="#333" stroke="#333" stroke-width="0.15" textLength="196.4" lengthAdjust="spacingAndGlyphs">(Population selon la nationalité au 1er janvier 2009)</text>

<rect x="488" y="20" width="499" height="1" fill="#e6e6e6"/>
<text class="serif" x="489.7" y="36" font-size="18" font-weight="bold" fill="#2e2e2e" textLength="488" lengthAdjust="spacingAndGlyphs">Le Pen’s heartland was in the North East - but not in Paris</text>
<text class="serif" x="489.7" y="54.3" font-size="17.5" font-style="italic" fill="#3a3a3a" textLength="250" lengthAdjust="spacingAndGlyphs">Le Pen vote share, first round 2017</text>
<g>
<path d="M495.5,78.7 502.9,86.1 495.5,93.5 488.1,86.1Z" fill="#aecfe6"/>
<path d="M495.5,96.3 502.9,103.7 495.5,111.1 488.1,103.7Z" fill="#7b8fbd"/>
<path d="M495.5,114.4 502.9,121.8 495.5,129.2 488.1,121.8Z" fill="#4a5595"/>
<path d="M495.5,132.6 502.9,140 495.5,147.4 488.1,140Z" fill="#0d1c62"/>
</g>
<g class="cond" font-size="11" fill="#777">
<text x="507.5" y="90" textLength="32.6" lengthAdjust="spacingAndGlyphs">0-20%</text>
<text x="507.5" y="107.6" textLength="40.7" lengthAdjust="spacingAndGlyphs">20-23%</text>
<text x="507.5" y="125.7" textLength="40.7" lengthAdjust="spacingAndGlyphs">23-26%</text>
<text x="507.5" y="143.9" textLength="28" lengthAdjust="spacingAndGlyphs">26%+</text>
</g>
<g id="rightmap">
<path fill="#aecfe6" d="M659.6,202.2 653.6,197.1 647.4,196.7 641.6,192.6 625.7,195.5 622.6,192.2 618,191.3 617.1,193.2 609.7,191.8 608.4,191 602.4,187.4 597.9,187 591.7,187 585.5,188.6 584,189.4 579.3,191.7 573.1,187 569.8,182.6 568.5,180.8 563.8,177 555.7,177.8 551.1,178.7 548.3,182.4 545.7,184 543.6,185.2 539,185.2 533.4,184.3 527.9,185.2 525.9,185.9 522.3,187.1 516.7,188.9 512.1,189.9 510.2,191.7 509.7,196.4 511.1,199.1 516.7,200.1 523.2,198.2 526.7,200 526.9,200.1 530.6,205.6 525.1,204.7 522.7,204.7 518.6,204.7 516.7,207.5 519.4,208.6 521.4,209.4 525.1,211.2 522.3,213.1 516.7,214 514.5,214.4 512.1,214.9 513.5,215.6 515.8,216.8 519.2,217.9 521.4,218.6 523.2,223.3 525.1,227 528.8,224.2 531.6,222.4 537.1,223.3 542.7,225.1 543.9,225.5 548.3,227 554.5,230.4 557.5,231.9 560.7,233.5 570,237 576.5,238.7 577.8,239 581.9,240.8 584.2,244.6 584.5,245 588.6,251 594.8,257 596.3,259 600.4,264.7 596,269 596,269.3 597.1,275.6 602.5,282.1 606.9,288.6 612,292 616.2,293.4 618.1,294.1 621.3,295.4 625.2,297.1 629.2,298.1 627.9,300.6 639.3,302 643.7,311.7 658.3,316.2 663.3,311.9 668.3,312.6 685.9,304.6 693.7,308.4 693.8,315.2 683.7,329 683.9,336.5 706.6,343.8 707.8,348.5 717,356.8 716.8,359.7 704.7,384.5 727,391.9 728.7,393.9 735.8,394.3 744.3,400 749.1,415.9 763,417.3 768.1,411.8 775.8,407.4 775.1,404.6 786.3,385.3 792.6,383.7 790.8,366.7 771.7,360.4 770.7,341.9 783,333.7 784.8,329.2 785.5,318.6 790.5,307.5 787.9,298.5 750,303.9 743.7,289.2 737,286.8 726.1,291.3 714.3,301.5 707.7,300.7 695.8,281.6 695.9,279.3 704.2,274.1 706.7,269.5 703.5,250.5 702.8,250.2 702.2,249.5 680.2,237.3 678,239.4 652.9,236.7 654.3,217.6 657.7,214.1ZM624.2,376.3 629.5,373.7 624.2,381.6 623.5,385.7 621.6,397.4 619.9,406.7 619,412 618.6,417.8 616.9,423.4 616.6,424.6 612.7,429.5 608.3,433 612.7,435.4 618.6,439.3 619.5,446.1 623,446.1 624.4,446.1 632.2,449.1 639.9,450.8 641,451 644,455 648.8,456.4 654.7,455.9 656.3,456.7 660.5,458.8 666.4,461.8 673.4,461.8 674.2,461.8 680.1,460.8 685,460.8 689.6,458 691.2,444.9 693.4,444.8 701.8,446.8 715.2,439.6 715.2,431.9 708.9,419.8 708.3,417.7 697.7,413.6 693.7,406.7 678.6,401.8 671.7,401.7 666.1,395.4 665.7,394.6 659.8,387.7 665,372.2 670.4,367.2 672.2,358.1 660.1,351.4 654.9,353.1 643.4,351.3 641.2,343.5 628,338 627.5,340 626.8,350 626.8,359.7 626.8,365.8ZM713.6,168 706.8,179 716.1,188.1 725.8,192.3 729.3,201 746,203.4 749.2,187.2 751.6,185.6 753.2,182.2 748.2,172.8 751.4,158.6 743.2,158.6 742,157.9 721.3,158.3 717.6,165.8ZM862,299 863.3,295.9 858.9,297.6 858,303.1 858.3,303.8ZM884.2,296 878.2,295 870,297 862,302 858.3,303.9 866.3,323.3 888.7,324 890.2,320.2 893.3,316.2 890.2,310.1 886.2,302ZM826.8,307.2 818.6,293.8 801.1,310 807.2,313.3 813.9,330.4 817.3,333.4 832.1,314.6 828.5,308.1Z"/>
<path fill="#7b8fbd" d="M671,136.4 670,137.4 668.5,141.8 671.5,146.2 668.5,149.1 661.2,152.1 657.6,152.8 653.8,153.5 649.9,152.9 645,152.1 636.2,151.3 628.8,150.6 628.1,149.6 625.9,146.2 624.4,140.3 623.7,135.1 617.1,134.4 609.7,135.9 603.1,134.4 605.3,140.3 608.2,146.2 611.2,153.5 611.7,155.9 612.6,160.9 614.1,166.8 612.6,172.6 613.6,174.6 615.6,178.5 615.9,179.7 617.1,184.4 618.5,190.3 618,191.3 622.6,192.2 625.7,195.5 641.6,192.6 634.3,175.8 634.4,173.8 635.5,172.2 642.6,170.6 656.5,175.7 662.3,172.5 673.4,173.2 683.5,151.2 683.6,150.6ZM659.6,202.2 657.7,214.1 654.3,217.6 652.9,236.7 678,239.4 680.2,237.3 680.9,232.8 686,224.7 703.4,215 694.6,197 673.7,198.3 672.9,199.1ZM663.3,311.9 658.3,316.2 643.7,311.7 639.3,302 627.9,300.6 627.2,302.1 628.2,307.1 630.2,311.2 629.2,315.2 626.2,320.2 626.2,324 626.2,325.2 630.2,329.5 642.2,342.1 644,344 641.9,342.5 629,333.5 628,338 641.2,343.5 643.4,351.3 654.9,353.1 660.1,351.4 672.2,358.1 670.4,367.2 682.3,377.3 688.4,378.5 693.7,377.2 704.4,384.6 704.7,384.5 716.8,359.7 717,356.8 707.8,348.5 706.6,343.8 683.9,336.5 683.7,329 693.8,315.2 693.7,308.4 685.9,304.6 668.3,312.6ZM720.2,467.3 723.2,468.3 722.2,470.8 723.4,471.1 736.9,461.4 738.2,457.1 729.1,448.9 725.3,448.8 715.2,439.6 701.8,446.8 693.4,444.8 691.2,444.9 689.6,458 689.8,457.9 693.8,455.9 699.1,458.2 703.1,460.2 707.4,461.1 708.1,461.2 712.1,464.3 713.8,465.1 716.2,466.3ZM753.6,157.9 751.4,158.6 748.2,172.8 753.2,182.2 751.6,185.6 749.2,187.2 746,203.4 748.8,207 770.7,208.3 778.2,201.5 778.5,199 779.5,196.7 776.5,180.2 779.8,175.8 773.2,155 760.3,161ZM838.1,260.3 836.9,255.5 840.2,242 838.4,237.3 822.8,230.6 820.5,224.1 812.4,219.1 804,236.4 807.4,251.2 804.8,256 808.9,263.2 823.2,268.2ZM764.2,272.6 743.7,289.2 750,303.9 787.9,298.5 788.6,292.6 770.3,274.7ZM848,380.5 849.1,383.3 875.3,386.5 886.4,383.6 887.2,378.5 893.3,374.5 893.2,373.8 892.3,368.5 888.2,364.4 883.2,358.4 882.2,352.4 889.2,348.4 895.3,344.3 896.3,338.3 892.3,330.2 888.5,325.5 888.2,325.2 888.7,324 866.3,323.3 855.9,333.3 846.3,330.4 839.1,317.5 832.1,314.6 817.3,333.4 818.3,338 835.1,339.4 841.4,358.2 842,358.5 849.4,370.8ZM721.6,409.4 708.3,417.7 708.9,419.8 715.2,431.9 740.1,426.8 740.1,426.8 749.1,415.9 744.3,400 735.8,394.3 728.7,393.9Z"/>
<path fill="#4a5595" d="M705.1,119.7 700.9,121.2 692.1,124.1 683.2,127.1 674.4,132.9 671,136.4 683.6,150.6 695.5,149.3 715,133 705.2,119.6ZM672.9,199.1 673.7,198.3 694.6,197 703.4,215 686,224.7 680.9,232.8 680.2,237.3 702.2,249.5 702.8,250.2 703.5,250.5 706.7,269.5 704.2,274.1 695.9,279.3 695.8,281.6 707.7,300.7 714.3,301.5 726.1,291.3 737,286.8 743.7,289.2 764.2,272.6 770.3,274.7 788.6,292.6 787.9,298.5 790.5,307.5 785.5,318.6 784.8,329.2 783,333.7 770.7,341.9 771.7,360.4 790.8,366.7 792.6,383.7 797.9,388.4 806.8,390.5 817.3,382.1 829.1,394.9 842.3,396.5 842.1,397.9 847.7,419.5 864,413.9 866.7,415.3 868.9,414.8 882.1,407.1 887.7,389.2 886.2,384.6 886.4,383.6 875.3,386.5 849.1,383.3 848,380.5 849.4,370.8 842,358.5 841.4,358.2 835.1,339.4 818.3,338 817.3,333.4 813.9,330.4 807.2,313.3 801.1,310 818.6,293.8 826.8,307.2 828.5,308.1 832.1,314.6 839.1,317.5 846.3,330.4 855.9,333.3 866.3,323.3 858.3,303.9 858,304.1 858.3,303.8 858,303.1 858.9,297.6 863.3,295.9 864.1,294 865.2,291.4 867.3,284.9 871.7,278.4 874.4,274.3 876,271.9 880.3,265.4 884.7,261 885.8,258.8 887.9,254.5 891.2,250.2 892.3,245.9 895.5,243.7 900.9,244.8 902.6,244.5 878.5,236.3 874,244.9 863.7,247.9 858.5,257.5 838.2,260.3 838.1,260.3 823.2,268.2 808.9,263.2 804.8,256 794.1,254.4 791.4,251.8 762.9,248.1 761.6,239.8 768.6,231.8 770.7,208.3 748.8,207 746,203.4 729.3,201 725.8,192.3 716.1,188.1 706.8,179 701.4,180.6 701.2,180.7 676.1,177.1 673.4,173.2 662.3,172.5 656.5,175.7 642.6,170.6 635.5,172.2 634.4,173.8 634.3,175.8 641.6,192.6 647.4,196.7 653.6,197.1 659.6,202.2ZM671.7,401.7 678.6,401.8 693.7,406.7 704.4,384.6 693.7,377.2 688.4,378.5 682.3,377.3 670.4,367.2 665,372.2 659.8,387.7 665.7,394.6 666.1,395.4ZM784.6,432.1 787.6,427.9 792.7,425.4 795.5,424.8 792.3,417.8 788.8,416.3 783.9,410.4 775.8,407.4 768.1,411.8 763,417.3 749.1,415.9 740.1,426.8 741.1,430.6 749,436.5 766.9,430.7 772.1,435.2 773.1,438.1 776.5,437.1 780.5,435.1ZM847.9,200.8 853.4,207.4 868.2,194 873.6,194 877.8,198.8 889.7,210.2 892.8,208.4 910.8,222.5 910.7,222 911.8,213.3 913.2,207.5 913.9,204.7 917.2,196 918.2,194 919.1,192.2 921.5,187.3 923.8,182.8 925.9,178.7 930.5,170.5 925.4,168.6 919.1,167.3 912.8,166.6 910.9,164.8 911.4,174.1 907.3,180.3 907,180.5 898.8,192.1 886,179.6 882.3,179.6 873.2,170.7 873.2,170.6 868.7,161.7 858.9,157.8 859,153.9 859.6,145.3 858.2,145.7 856.9,144.9 854.4,143.2 849.3,142.5 844.8,143.2 842.3,144.4 840.4,140.6 837.9,136.8 837.4,136.5 835.9,139.6 842.3,148 844.9,158.2 851.3,162 849.2,175.9 853.1,179.5Z"/>
<path fill="#0d1c62" d="M716.5,75.3 716.5,84.2 717.1,91.8 717,93.1 716.5,98.2 715.9,103.2 716.5,108.1 716.5,108.3 714.1,112 712.7,114.7 708.9,117.2 705.2,119.6 715,133 695.5,149.3 683.6,150.6 683.5,151.2 673.4,173.2 676.1,177.1 701.2,180.7 701.4,180.6 706.8,179 713.6,168 717.6,165.8 721.3,158.3 742,157.9 743.2,158.6 751.4,158.6 753.6,157.9 760.3,161 773.2,155 779.8,175.8 776.5,180.2 779.5,196.7 778.5,199 778.2,201.5 770.7,208.3 768.6,231.8 761.6,239.8 762.9,248.1 791.4,251.8 794.1,254.4 804.8,256 807.4,251.2 804,236.4 812.4,219.1 820.5,224.1 822.8,230.6 838.4,237.3 840.2,242 836.9,255.5 838.1,260.3 838.2,260.3 858.5,257.5 863.7,247.9 874,244.9 878.5,236.3 902.6,244.5 906.4,243.7 909.6,240.5 910.7,239.4 911.8,230.7 910.8,222.5 892.8,208.4 889.7,210.2 877.8,198.8 873.6,194 868.2,194 853.4,207.4 847.9,200.8 853.1,179.5 849.2,175.9 851.3,162 844.9,158.2 842.3,148 835.9,139.6 837.4,136.5 834,134.3 829,130.5 823.9,129.2 822.6,125.4 822,119 823.9,112.7 822.6,111.4 820,112.1 818.5,116.2 818.1,117.2 814.3,119.7 808.8,121.3 807.9,121.6 802.8,121 801.7,117.5 800.9,114.7 800.3,108.3 799,103.9 795.2,102.6 793.8,102.6 788.9,102.6 785,102 784,97.9 783.8,96.9 781.3,94.4 777.1,93.3 776.2,93.1 771.7,91.8 770.5,88 769.2,82.3 766,79.8 762.2,79.8 758.4,81.7 754.6,80.4 753.6,79.4 750.8,76.6 749.5,74 748.9,69 748.9,68.8 747.6,63.9 741.9,65.8 734.3,67.7 725.4,70.2 717.8,72.8ZM727,391.9 704.7,384.5 704.4,384.6 693.7,406.7 697.7,413.6 708.3,417.7 721.6,409.4 728.7,393.9ZM797.9,388.4 792.6,383.7 786.3,385.3 775.1,404.6 775.8,407.4 783.9,410.4 788.8,416.3 792.3,417.8 795.5,424.8 799,424.1 800.3,426.7 804.1,427.9 809.2,427.9 809.9,428.1 814.3,429.2 815.5,431.7 818.3,432.6 819.4,433 823.2,430.5 827,430.5 830.8,433.6 837.1,433 838,433.9 839.7,435.5 840.9,439.4 846,439.4 849.8,440.6 852.4,443.2 854.9,445.7 858.7,444.4 861.2,444.4 863.8,444.4 868.9,443.2 870.5,442.5 875.2,440.6 880.3,438.1 882.8,434.3 886.6,429.2 888,427.2 889.2,425.4 894.3,422.9 894.7,422.4 898.1,419 904.4,415.2 908.4,410.7 912.4,404.7 914.4,398.7 906.3,396.6 896.3,394.6 888.2,390.6 887.7,389.2 882.1,407.1 868.9,414.8 866.7,415.3 864,413.9 847.7,419.5 842.1,397.9 842.3,396.5 829.1,394.9 817.3,382.1 806.8,390.5ZM765.5,450.2 766.5,446.2 767.5,442.1 769.5,439.1 773.1,438.1 772.1,435.2 766.9,430.7 749,436.5 741.1,430.6 740.1,426.8 740.1,426.8 715.2,431.9 715.2,439.6 725.3,448.8 729.1,448.9 738.2,457.1 736.9,461.4 723.4,471.1 728.2,472.3 729.2,475.3 732.3,476.3 735.3,474.3 740.3,476.3 740.4,476.3 746.3,477.3 751.4,476.3 753.1,475.1 755.4,473.3 760.4,471.8 764.4,472.8 767.5,472.3 765,468.3 764.4,462.3 764.4,455.2 764.8,453.2ZM898.8,192.1 907,180.5 907.3,180.3 911.4,174.1 910.9,164.8 909.6,163.5 907.7,160.9 903.9,161.6 898.8,163.5 897,163 893.7,162.2 891.2,159 889.3,158.7 887.4,158.4 882.3,157.1 879.7,153.3 877.9,150.5 877.2,149.5 873.4,147 868.3,144.4 863.2,144.4 859.6,145.3 859,153.9 858.9,157.8 868.7,161.7 873.2,170.6 873.2,170.7 882.3,179.6 886,179.6Z"/>
<g fill="none" stroke="#e4eafa" stroke-width="0.9" stroke-opacity="0.9" stroke-linejoin="round">
<path d="M545.7,184 543.6,185.2 539,185.2 533.4,184.3 527.9,185.2 525.9,185.9 522.3,187.1 516.7,188.9 512.1,189.9 510.2,191.7 509.7,196.4 511.1,199.1 516.7,200.1 523.2,198.2 526.7,200 526.9,200.1 530.6,205.6 525.1,204.7 522.7,204.7 518.6,204.7 516.7,207.5 519.4,208.6 521.4,209.4 525.1,211.2 522.3,213.1 516.7,214 514.5,214.4 512.1,214.9 513.5,215.6 515.8,216.8 519.2,217.9 521.4,218.6 523.2,223.3 525.1,227 528.8,224.2 531.6,222.4 537.1,223.3 542.7,225.1 543.9,225.5 543.9,215 549.9,205.5 545.7,201Z"/>
<path d="M625.9,146.2 624.4,140.3 623.7,135.1 617.1,134.4 609.7,135.9 603.1,134.4 605.3,140.3 608.2,146.2 611.2,153.5 611.7,155.9 612.6,160.9 614.1,166.8 612.6,172.6 613.6,174.6 615.6,178.5 615.9,179.7 617.1,184.4 618.5,190.3 618,191.3 622.6,192.2 625.7,195.5 641.6,192.6 634.3,175.8 634.4,173.8 635.5,172.2 626.3,152.3 628.1,149.6Z"/>
<path d="M628.7,429.3 616.9,423.4 616.6,424.6 612.7,429.5 608.3,433 612.7,435.4 618.6,439.3 619.5,446.1 623,446.1 624.4,446.1 632.2,449.1 639.9,450.8 641,451 644,455 648.8,456.4 654.7,455.9 656.3,456.7 659.2,448.3 653.3,437.6 653.8,429 653.8,429 649.7,426.7 630.3,431Z"/>
<path d="M543.9,225.5 548.3,227 554.5,230.4 557.5,231.9 560.7,233.5 570,237 576.5,238.7 577.8,239 581.9,240.8 584.2,244.6 598,243.7 603.9,234.7 603.3,231.8 595.4,223.4 586.5,219.6 584.2,217 568.4,215.6 560.1,205.8 549.9,205.5 543.9,215Z"/>
<path d="M560.1,205.8 568.4,215.6 584.2,217 586.2,206.9 607.6,198.2 608.4,191 602.4,187.4 597.9,187 591.7,187 585.5,188.6 584,189.4 579.3,191.7 573.1,187 569.8,182.6 568.5,180.8 563.8,177 555.7,177.8 551.1,178.7 548.3,182.4 545.7,184 545.7,201 549.9,205.5Z"/>
<path d="M741.9,65.8 734.3,67.7 725.4,70.2 717.8,72.8 716.5,75.3 716.5,84.2 717.1,91.8 717,93.1 716.5,98.2 715.9,103.2 716.5,108.1 731.8,115.5 739.2,106.3 745.8,106.8 753.2,120.6 767.8,118.4 770.3,114.9 765.1,101.1 753.9,97.2 753.6,79.4 750.8,76.6 749.5,74 748.9,69 748.9,68.8 747.6,63.9Z"/>
<path d="M584.2,244.6 584.5,245 588.6,251 594.8,257 596.3,259 600.4,264.7 596,269 596,269.3 606,268.1 615.6,273.4 637.8,274.1 638.7,273.6 642,268.9 634,257 621.9,250.7 619.1,244.4 603.9,234.7 598,243.7Z"/>
<path d="M625.7,195.5 622.6,192.2 618,191.3 617.1,193.2 609.7,191.8 608.4,191 607.6,198.2 586.2,206.9 584.2,217 586.5,219.6 595.4,223.4 603.3,231.8 603.9,234.7 619.1,244.4 634,229.7 632.5,219.9 628.2,215.2 627.6,215 626.8,213.9Z"/>
<path d="M606,268.1 596,269.3 597.1,275.6 602.5,282.1 606.9,288.6 612,292 616.2,293.4 618.1,294.1 621.3,295.4 625.2,297.1 629.2,298.1 627.9,300.6 639.3,302 644.5,293.2 638.7,273.6 637.8,274.1 615.6,273.4Z"/>
<path d="M683.6,150.6 695.5,149.3 715,133 705.2,119.6 705.1,119.7 700.9,121.2 692.1,124.1 683.2,127.1 674.4,132.9 671,136.4Z"/>
<path d="M628,338 627.5,340 626.8,350 626.8,359.7 626.8,365.8 624.2,376.3 629.5,373.7 624.2,381.6 623.5,385.7 634.4,385 639.4,388.9 644,389.8 659.6,387.7 659.8,387.7 665,372.2 670.4,367.2 672.2,358.1 660.1,351.4 654.9,353.1 643.4,351.3 641.2,343.5Z"/>
<path d="M623.5,385.7 621.6,397.4 619.9,406.7 619,412 618.6,417.8 616.9,423.4 628.7,429.3 630.3,431 649.7,426.7 653.8,429 664.4,420.7 671.7,401.7 666.1,395.4 665.7,394.6 659.8,387.7 659.6,387.7 644,389.8 639.4,388.9 634.4,385Z"/>
<path d="M673.4,173.2 683.5,151.2 683.6,150.6 671,136.4 670,137.4 668.5,141.8 671.5,146.2 668.5,149.1 661.2,152.1 657.6,152.8 653.8,153.5 649.9,152.9 645,152.1 636.2,151.3 628.8,150.6 628.1,149.6 626.3,152.3 635.5,172.2 642.6,170.6 656.5,175.7 662.3,172.5Z"/>
<path d="M628.2,215.2 632.5,219.9 634,229.7 643.1,237.4 652.4,237.1 652.9,236.7 654.3,217.6 657.7,214.1 659.6,202.2 653.6,197.1 647.4,196.7 641.6,192.6 625.7,195.5 626.8,213.9 627.6,215Z"/>
<path d="M634,229.7 619.1,244.4 621.9,250.7 634,257 642,268.9 653.9,267 666,269 668.4,267.5 678,239.4 652.9,236.7 652.4,237.1 643.1,237.4Z"/>
<path d="M641.6,192.6 647.4,196.7 653.6,197.1 659.6,202.2 672.9,199.1 673.7,198.3 694.6,197 701.2,180.7 676.1,177.1 673.4,173.2 662.3,172.5 656.5,175.7 642.6,170.6 635.5,172.2 634.4,173.8 634.3,175.8Z"/>
<path d="M627.9,300.6 627.2,302.1 628.2,307.1 630.2,311.2 629.2,315.2 626.2,320.2 626.2,324 626.2,325.2 630.2,329.5 642.2,342.1 644,344 641.9,342.5 629,333.5 628,338 641.2,343.5 643.4,351.3 654.9,353.1 660.1,351.4 660.1,348.2 651.2,331.5 657.1,324.5 658.3,316.2 643.7,311.7 639.3,302Z"/>
<path d="M644.5,293.2 639.3,302 643.7,311.7 658.3,316.2 663.3,311.9 661.8,297.1 667.7,286.1 666,269 653.9,267 642,268.9 638.7,273.6Z"/>
<path d="M703.4,215 694.6,197 673.7,198.3 672.9,199.1 659.6,202.2 657.7,214.1 654.3,217.6 652.9,236.7 678,239.4 680.2,237.3 680.9,232.8 686,224.7Z"/>
<path d="M686.3,441.5 685.8,428.3 664.4,420.7 653.8,429 653.8,429 653.3,437.6 659.2,448.3 656.3,456.7 660.5,458.8 666.4,461.8 673.4,461.8 671.9,453 681.8,443Z"/>
<path d="M693.8,315.2 693.7,308.4 685.9,304.6 668.3,312.6 663.3,311.9 658.3,316.2 657.1,324.5 651.2,331.5 660.1,348.2 668.5,335 683.3,337 683.9,336.5 683.7,329Z"/>
<path d="M706.6,343.8 683.9,336.5 683.3,337 668.5,335 660.1,348.2 660.1,351.4 672.2,358.1 670.4,367.2 682.3,377.3 688.4,378.5 693.7,377.2 704.4,384.6 704.7,384.5 716.8,359.7 717,356.8 707.8,348.5Z"/>
<path d="M670.4,367.2 665,372.2 659.8,387.7 665.7,394.6 666.1,395.4 671.7,401.7 678.6,401.8 693.7,406.7 704.4,384.6 693.7,377.2 688.4,378.5 682.3,377.3Z"/>
<path d="M695.9,279.3 682.9,270.2 668.4,267.5 666,269 667.7,286.1 661.8,297.1 663.3,311.9 668.3,312.6 685.9,304.6 693.7,308.4 707.7,300.7 695.8,281.6Z"/>
<path d="M668.4,267.5 682.9,270.2 695.9,279.3 704.2,274.1 706.7,269.5 703.5,250.5 702.8,250.2 702.2,249.5 680.2,237.3 678,239.4Z"/>
<path d="M693.4,444.8 701.8,446.8 715.2,439.6 715.2,431.9 708.9,419.8 708.3,417.7 697.7,413.6 685.8,428.3 686.3,441.5 681.8,443 671.9,453 673.4,461.8 674.2,461.8 680.1,460.8 685,460.8 689.6,458 691.2,444.9Z"/>
<path d="M702.2,249.5 702.8,250.2 703.5,250.5 711.9,249.3 730.3,260.7 732.9,257.8 734.8,236 726.5,230.3 724.5,225.9 717.2,218.6 710.6,217.7 705.4,215.4 703.4,215 686,224.7 680.9,232.8 680.2,237.3Z"/>
<path d="M664.4,420.7 685.8,428.3 697.7,413.6 693.7,406.7 678.6,401.8 671.7,401.7Z"/>
<path d="M708.1,461.2 712.1,464.3 713.8,465.1 716.2,466.3 720.2,467.3 723.2,468.3 722.2,470.8 723.4,471.1 736.9,461.4 738.2,457.1 729.1,448.9 725.3,448.8 715.2,439.6 701.8,446.8 693.4,444.8 691.2,444.9 689.6,458 689.8,457.9 693.8,455.9 699.1,458.2 703.1,460.2 707.4,461.1Z"/>
<path d="M717.6,165.8 721.3,158.3 721.1,135.2 715,133 695.5,149.3 683.6,150.6 683.5,151.2 673.4,173.2 676.1,177.1 701.2,180.7 701.4,180.6 706.8,179 713.6,168Z"/>
<path d="M694.6,197 703.4,215 705.4,215.4 710.6,217.7 717.2,218.6 729.3,201 725.8,192.3 716.1,188.1 706.8,179 701.4,180.6 701.2,180.7Z"/>
<path d="M720.8,325.3 714.3,301.5 707.7,300.7 693.7,308.4 693.8,315.2 683.7,329 683.9,336.5 706.6,343.8 712.9,331.8Z"/>
<path d="M697.7,413.6 708.3,417.7 721.6,409.4 728.7,393.9 727,391.9 704.7,384.5 704.4,384.6 693.7,406.7Z"/>
<path d="M730.3,260.7 711.9,249.3 703.5,250.5 706.7,269.5 704.2,274.1 695.9,279.3 695.8,281.6 707.7,300.7 714.3,301.5 726.1,291.3 737,286.8 729.7,268.1Z"/>
<path d="M751.3,455.6 738.2,457.1 736.9,461.4 723.4,471.1 728.2,472.3 729.2,475.3 732.3,476.3 735.3,474.3 740.3,476.3 740.4,476.3 746.3,477.3 751.4,476.3 753.1,475.1 755.4,473.3 760.4,471.8 764.4,472.8 767.5,472.3 765,468.3 764.4,462.3 764.4,455.2 764.8,453.2 754,453.4Z"/>
<path d="M749.1,415.9 744.3,400 735.8,394.3 728.7,393.9 721.6,409.4 708.3,417.7 708.9,419.8 715.2,431.9 740.1,426.8 740.1,426.8Z"/>
<path d="M707.8,348.5 717,356.8 737.7,355.6 747.5,332.2 745,327.3 720.8,325.3 712.9,331.8 706.6,343.8Z"/>
<path d="M713.6,168 706.8,179 716.1,188.1 725.8,192.3 732.7,183.9 729.5,172.3 717.6,165.8Z"/>
<path d="M714.3,301.5 720.8,325.3 745,327.3 749.9,312.2 750,303.9 743.7,289.2 737,286.8 726.1,291.3Z"/>
<path d="M741.5,361.9 737.7,355.6 717,356.8 716.8,359.7 704.7,384.5 727,391.9 727.8,381.4Z"/>
<path d="M746,203.4 729.3,201 717.2,218.6 724.5,225.9 726.5,230.3 734.8,236 751,234.7 761.6,239.8 768.6,231.8 770.7,208.3 748.8,207Z"/>
<path d="M762.9,248.1 761.6,239.8 751,234.7 734.8,236 732.9,257.8 730.3,260.7 729.7,268.1 737,286.8 743.7,289.2 764.2,272.6 761.2,254.2Z"/>
<path d="M732.6,135.3 748.4,132.5 754.5,139.3 771,138.9 775.2,133.8 767.8,118.4 753.2,120.6 745.8,106.8 739.2,106.3 731.8,115.5 716.5,108.1 716.5,108.3 714.1,112 712.7,114.7 708.9,117.2 705.2,119.6 715,133 721.1,135.2 725.6,134Z"/>
<path d="M743.2,158.6 751.4,158.6 753.6,157.9 760.3,161 773.2,155 774.3,153.9 771,138.9 754.5,139.3 748.4,132.5 732.6,135.3 725.6,134 721.1,135.2 721.3,158.3 742,157.9Z"/>
<path d="M725.3,448.8 729.1,448.9 738.2,457.1 751.3,455.6 754,453.4 764.8,453.2 765.5,450.2 766.5,446.2 767.5,442.1 769.5,439.1 773.1,438.1 772.1,435.2 766.9,430.7 749,436.5 741.1,430.6 740.1,426.8 740.1,426.8 715.2,431.9 715.2,439.6Z"/>
<path d="M744.3,400 749.1,415.9 763,417.3 768.1,411.8 775.8,407.4 775.1,404.6 765.5,387.9 766.3,382.9 761.7,371.6 754.5,371.1 741.5,361.9 727.8,381.4 727,391.9 728.7,393.9 735.8,394.3Z"/>
<path d="M729.5,172.3 735.2,170.3 738.4,167.7 743.2,158.6 742,157.9 721.3,158.3 717.6,165.8Z"/>
<path d="M741.5,361.9 754.5,371.1 761.7,371.6 771.7,360.4 770.7,341.9 747.5,332.2 737.7,355.6Z"/>
<path d="M729.3,201 746,203.4 749.2,187.2 741.1,183.6 732.7,183.9 725.8,192.3Z"/>
<path d="M729.5,172.3 732.7,183.9 741.1,183.6 741.2,177.1 735.2,170.3Z"/>
<path d="M741.2,177.1 744.1,173.2 738.4,167.7 735.2,170.3Z"/>
<path d="M738.4,167.7 744.1,173.2 748.2,172.8 751.4,158.6 743.2,158.6Z"/>
<path d="M741.1,183.6 749.2,187.2 751.6,185.6 753.2,182.2 748.2,172.8 744.1,173.2 741.2,177.1Z"/>
<path d="M770.3,114.9 779.8,111.9 788.4,118.4 790,117.8 801.7,117.5 800.9,114.7 800.3,108.3 799,103.9 795.2,102.6 793.8,102.6 788.9,102.6 785,102 784,97.9 783.8,96.9 781.3,94.4 777.1,93.3 776.2,93.1 771.7,91.8 770.5,88 769.2,82.3 766,79.8 762.2,79.8 758.4,81.7 754.6,80.4 753.6,79.4 753.9,97.2 765.1,101.1Z"/>
<path d="M772.1,435.2 773.1,438.1 776.5,437.1 780.5,435.1 784.6,432.1 787.6,427.9 792.7,425.4 795.5,424.8 792.3,417.8 788.8,416.3 783.9,410.4 775.8,407.4 768.1,411.8 763,417.3 749.1,415.9 740.1,426.8 741.1,430.6 749,436.5 766.9,430.7Z"/>
<path d="M779.8,175.8 773.2,155 760.3,161 753.6,157.9 751.4,158.6 748.2,172.8 753.2,182.2 751.6,185.6 749.2,187.2 746,203.4 748.8,207 770.7,208.3 778.2,201.5 778.5,199 779.5,196.7 776.5,180.2Z"/>
<path d="M790.5,307.5 787.9,298.5 750,303.9 749.9,312.2 745,327.3 747.5,332.2 770.7,341.9 783,333.7 784.8,329.2 785.5,318.6Z"/>
<path d="M750,303.9 787.9,298.5 788.6,292.6 770.3,274.7 764.2,272.6 743.7,289.2Z"/>
<path d="M764.2,272.6 770.3,274.7 788.6,292.6 795.2,287.5 797.4,283.5 787.4,263.2 794.1,254.4 791.4,251.8 762.9,248.1 761.2,254.2Z"/>
<path d="M792.6,383.7 790.8,366.7 771.7,360.4 761.7,371.6 766.3,382.9 765.5,387.9 775.1,404.6 786.3,385.3Z"/>
<path d="M811.6,217.7 806.6,214.1 791.4,211.5 778.2,201.5 770.7,208.3 768.6,231.8 761.6,239.8 762.9,248.1 791.4,251.8 794.1,254.4 804.8,256 807.4,251.2 804,236.4 812.4,219.1 811.8,218.2Z"/>
<path d="M803.9,135 808.8,121.3 807.9,121.6 802.8,121 801.7,117.5 790,117.8 788.4,118.4 779.8,111.9 770.3,114.9 767.8,118.4 775.2,133.8 771,138.9 774.3,153.9 773.2,155 779.8,175.8 790.8,168.6 793.8,154.8 794.5,154.2 795.7,140.4Z"/>
<path d="M771.7,360.4 790.8,366.7 793,365.2 802.5,350.3 783,333.7 770.7,341.9Z"/>
<path d="M821.7,175.9 830.6,162.2 828.2,144.1 821.7,143.7 820.3,144 810.7,159.3 794.5,154.2 793.8,154.8 790.8,168.6 779.8,175.8 776.5,180.2 779.5,196.7 806.1,185.3 806.8,184.5 816.7,181 821.6,175.9Z"/>
<path d="M775.8,407.4 783.9,410.4 788.8,416.3 792.3,417.8 802.4,412 810.6,419.8 824.1,413.6 820.2,408.4 810,402.9 806.8,390.5 797.9,388.4 792.6,383.7 786.3,385.3 775.1,404.6Z"/>
<path d="M784.8,329.2 783,333.7 802.5,350.3 813.4,348.4 818.3,338 817.3,333.4 813.9,330.4 807.2,313.3 801.1,310 790.5,307.5 785.5,318.6Z"/>
<path d="M822.7,201.9 816.7,181 806.8,184.5 806.1,185.3 779.5,196.7 778.5,199 778.2,201.5 791.4,211.5 806.6,214.1 811.6,217.7Z"/>
<path d="M824.3,282.9 843.8,289.7 846.9,288.8 847.5,282.9 838.2,260.3 838.1,260.3 823.2,268.2 808.9,263.2 804.8,256 794.1,254.4 787.4,263.2 797.4,283.5 795.2,287.5 788.6,292.6 787.9,298.5 790.5,307.5 801.1,310 818.6,293.8 818.6,293.7 823.6,283.7Z"/>
<path d="M802.4,412 792.3,417.8 795.5,424.8 799,424.1 800.3,426.7 804.1,427.9 809.2,427.9 809.9,428.1 814.3,429.2 815.5,431.7 818.3,432.6 819.4,433 823.2,430.5 827,430.5 830.8,433.6 837.1,433 838,433.9 841.6,423.3 827,418.1 825.3,414.6 824.1,413.6 810.6,419.8Z"/>
<path d="M793,365.2 790.8,366.7 792.6,383.7 797.9,388.4 806.8,390.5 817.3,382.1 819.4,377.7 818.8,373.7 821.6,361.1 813.4,348.4 802.5,350.3Z"/>
<path d="M930.5,170.5 925.4,168.6 919.1,167.3 912.8,166.6 910.9,164.8 911.4,174.1 907.3,180.3 907,180.5 898.8,192.1 899.1,194.1 895.8,205 892.8,208.4 910.8,222.5 910.7,222 911.8,213.3 913.2,207.5 913.9,204.7 917.2,196 918.2,194 919.1,192.2 921.5,187.3 923.8,182.8 925.9,178.7Z"/>
<path d="M807.4,251.2 804.8,256 808.9,263.2 823.2,268.2 838.1,260.3 836.9,255.5 840.2,242 838.4,237.3 822.8,230.6 820.5,224.1 812.4,219.1 804,236.4Z"/>
<path d="M853.4,207.4 847.9,200.8 840.1,198.1 830.6,179.2 821.7,175.9 821.6,175.9 816.7,181 822.7,201.9 811.6,217.7 811.8,218.2 812.4,219.1 820.5,224.1 822.8,230.6 838.4,237.3 841.9,231.4 848.9,230.9 856.8,228 860.4,218.1 859.2,216.7 853.7,211Z"/>
<path d="M828.2,144.1 835.9,139.6 837.4,136.5 834,134.3 829,130.5 823.9,129.2 822.6,125.4 822,119 823.9,112.7 822.6,111.4 820,112.1 818.5,116.2 818.1,117.2 814.3,119.7 808.8,121.3 803.9,135 795.7,140.4 794.5,154.2 810.7,159.3 820.3,144 821.7,143.7Z"/>
<path d="M807.2,313.3 813.9,330.4 817.3,333.4 832.1,314.6 828.5,308.1 826.8,307.2 818.6,293.8 801.1,310Z"/>
<path d="M820.2,408.4 824.1,413.6 825.3,414.6 827,418.1 841.6,423.3 845.7,422 847.7,419.5 842.1,397.9 842.3,396.5 829.1,394.9 817.3,382.1 806.8,390.5 810,402.9Z"/>
<path d="M821.6,361.1 818.8,373.7 819.4,377.7 817.3,382.1 829.1,394.9 842.3,396.5 847.1,391.3 849.1,383.3 848,380.5 849.4,370.8 842,358.5 841.4,358.2 835.1,339.4 818.3,338 813.4,348.4Z"/>
<path d="M826.8,307.2 828.5,308.1 832.1,314.6 839.1,317.5 846.3,330.4 855.9,333.3 866.3,323.3 858.3,303.9 858,304.1 858.3,303.8 858,303.1 858.9,297.6 846.9,288.8 843.8,289.7 824.3,282.9 823.6,283.7 818.6,293.7 818.6,293.8Z"/>
<path d="M835.1,339.4 841.4,358.2 842,358.5 849.4,370.8 873.8,359.1 871.9,353.3 858.4,342.7 855.9,333.3 846.3,330.4 839.1,317.5 832.1,314.6 817.3,333.4 818.3,338Z"/>
<path d="M844.9,158.2 851.3,162 849.2,175.9 853.1,179.5 847.9,200.8 853.4,207.4 868.2,194 873.6,194 877.8,198.8 889.7,210.2 892.8,208.4 895.8,205 899.1,194.1 898.8,192.1 886,179.6 882.3,179.6 873.2,170.7 873.2,170.6 868.7,161.7 858.9,157.8 859,153.9 859.6,145.3 858.2,145.7 856.9,144.9 854.4,143.2 849.3,142.5 844.8,143.2 842.3,144.4 840.4,140.6 837.9,136.8 837.4,136.5 835.9,139.6 842.3,148Z"/>
<path d="M842.3,148 835.9,139.6 828.2,144.1 830.6,162.2 821.7,175.9 830.6,179.2 840.1,198.1 847.9,200.8 853.1,179.5 849.2,175.9 851.3,162 844.9,158.2Z"/>
<path d="M878.5,236.3 879.2,222.5 860.4,218.1 856.8,228 848.9,230.9 841.9,231.4 838.4,237.3 840.2,242 836.9,255.5 838.1,260.3 838.2,260.3 858.5,257.5 863.7,247.9 874,244.9Z"/>
<path d="M866.7,415.3 864,413.9 847.7,419.5 845.7,422 841.6,423.3 838,433.9 839.7,435.5 840.9,439.4 846,439.4 849.8,440.6 852.4,443.2 854.9,445.7 858.7,444.4 861.2,444.4 863.8,444.4 868.9,443.2 870.5,442.5 875.2,440.6 880.3,438.1 882.8,434.3 886.6,429.2 888,427.2 868.9,414.8Z"/>
<path d="M849.1,383.3 847.1,391.3 842.3,396.5 842.1,397.9 847.7,419.5 864,413.9 866.7,415.3 868.9,414.8 882.1,407.1 887.7,389.2 886.2,384.6 886.4,383.6 875.3,386.5Z"/>
<path d="M849.1,383.3 875.3,386.5 886.4,383.6 887.2,378.5 893.3,374.5 893.2,373.8 873.8,359.1 849.4,370.8 848,380.5Z"/>
<path d="M858.5,257.5 838.2,260.3 847.5,282.9 846.9,288.8 858.9,297.6 863.3,295.9 864.1,294 865.2,291.4 867.3,284.9 871.7,278.4 874.4,274.3 864.5,268.4Z"/>
<path d="M859.2,216.7 860.4,218.1 879.2,222.5 885.3,218 889.7,210.2 877.8,198.8 873.6,194 868.2,194 853.4,207.4 853.7,211Z"/>
<path d="M868.7,161.7 873.2,170.6 873.2,170.7 882.3,179.6 886,179.6 898.8,192.1 907,180.5 907.3,180.3 911.4,174.1 910.9,164.8 909.6,163.5 907.7,160.9 903.9,161.6 898.8,163.5 897,163 893.7,162.2 891.2,159 889.3,158.7 887.4,158.4 882.3,157.1 879.7,153.3 877.9,150.5 877.2,149.5 873.4,147 868.3,144.4 863.2,144.4 859.6,145.3 859,153.9 858.9,157.8Z"/>
<path d="M858.3,303.8 862,299 863.3,295.9 858.9,297.6 858,303.1ZM888.7,324 890.2,320.2 893.3,316.2 890.2,310.1 886.2,302 884.2,296 878.2,295 870,297 862,302 858.3,303.9 866.3,323.3Z"/>
<path d="M874,244.9 863.7,247.9 858.5,257.5 864.5,268.4 874.4,274.3 876,271.9 880.3,265.4 884.7,261 885.8,258.8 887.9,254.5 891.2,250.2 892.3,245.9 895.5,243.7 900.9,244.8 902.6,244.5 878.5,236.3Z"/>
<path d="M888.2,325.2 888.7,324 866.3,323.3 855.9,333.3 858.4,342.7 871.9,353.3 873.8,359.1 893.2,373.8 892.3,368.5 888.2,364.4 883.2,358.4 882.2,352.4 889.2,348.4 895.3,344.3 896.3,338.3 892.3,330.2 888.5,325.5Z"/>
<path d="M898.1,419 904.4,415.2 908.4,410.7 912.4,404.7 914.4,398.7 906.3,396.6 896.3,394.6 888.2,390.6 887.7,389.2 882.1,407.1 868.9,414.8 888,427.2 889.2,425.4 894.3,422.9 894.7,422.4Z"/>
<path d="M878.5,236.3 902.6,244.5 906.4,243.7 909.6,240.5 885.3,218 879.2,222.5Z"/>
<path d="M892.8,208.4 889.7,210.2 885.3,218 909.6,240.5 910.7,239.4 911.8,230.7 910.8,222.5Z"/>
</g>
</g>
<path fill="#0d1c62" d="M969,449.1 972.4,449.6 973.3,457.3 974.1,465.8 975,474.3 975,484.5 972.4,493 969.8,501.6 970.7,508.4 968.1,515.2 964.7,519.4 959.6,516 954.5,512.6 952,509.2 951.1,505 948.6,503.3 950.3,499 946.8,495.6 947.7,491.3 945.1,487.9 946.8,484.5 944.3,481.1 945.1,477.7 943.4,475.1 946.8,470.9 949.4,467.5 954.5,464.1 960.5,462.4 966.4,461.5 968.1,455.6Z"/>
<path fill="none" stroke="#dfe6f7" stroke-width="0.9" d="M944.6,477.7 L950,480 956.2,484.5 960,488.5 963,493 967.3,499.8 969.8,501.6"/>
<text class="cond" x="854.8" y="536" font-size="8.5" fill="#8a8a8a" textLength="130.5" lengthAdjust="spacingAndGlyphs">DATA: FRENCH INTERIOR MINISTRY</text>
</svg>
</body></html>
